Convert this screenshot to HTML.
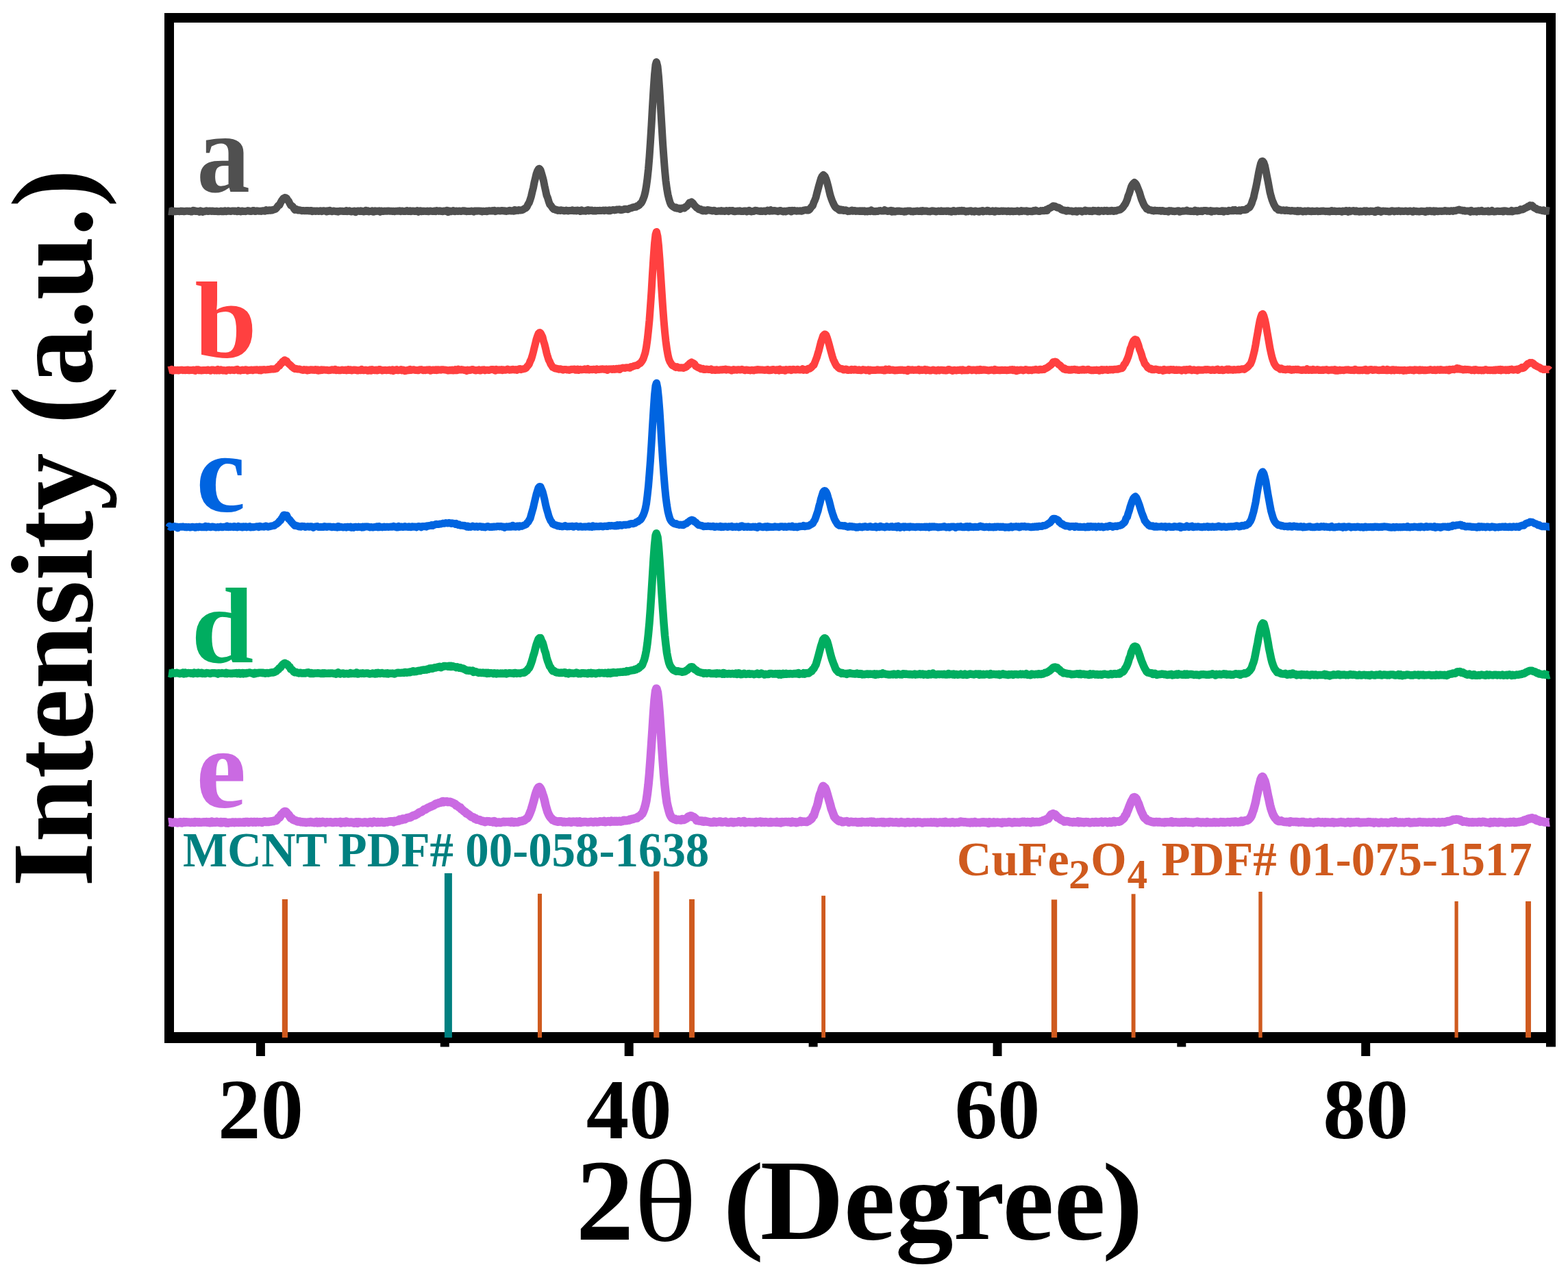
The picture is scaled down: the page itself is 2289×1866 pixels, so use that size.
<!DOCTYPE html>
<html><head><meta charset="utf-8"><title>XRD patterns</title>
<style>html,body{margin:0;padding:0;background:#fff;width:2289px;height:1866px;overflow:hidden}svg{display:block}</style>
</head><body>
<svg width="2289" height="1866" viewBox="0 0 2289 1866">
<rect width="100%" height="100%" fill="#fff"/>
<g fill="#000">
<rect x="240" y="19" width="2031" height="14"/>
<rect x="240" y="1507" width="2031" height="16"/>
<rect x="240" y="19" width="14" height="1504"/>
<rect x="2257" y="19" width="14" height="1504"/>
<rect x="373.9" y="1523" width="13" height="19"/>
<rect x="911.7" y="1523" width="13" height="19"/>
<rect x="1449.5" y="1523" width="13" height="19"/>
<rect x="1987.2" y="1523" width="13" height="19"/>
<rect x="642.8" y="1523" width="13" height="5.5"/>
<rect x="1180.6" y="1523" width="13" height="5.5"/>
<rect x="1718.3" y="1523" width="13" height="5.5"/>
<rect x="2257" y="1523" width="14" height="5.5"/>
</g>
<rect x="411.80" y="1313" width="8.2" height="202.0" fill="#cf5a1e"/>
<rect x="784.95" y="1304.9" width="6.1" height="210.1" fill="#cf5a1e"/>
<rect x="954.20" y="1272.3" width="8.2" height="242.7" fill="#cf5a1e"/>
<rect x="1006.05" y="1313" width="7.9" height="202.0" fill="#cf5a1e"/>
<rect x="1199.20" y="1307.8" width="5.8" height="207.2" fill="#cf5a1e"/>
<rect x="1534.85" y="1313.5" width="8.3" height="201.5" fill="#cf5a1e"/>
<rect x="1651.65" y="1305.3" width="5.9" height="209.7" fill="#cf5a1e"/>
<rect x="1837.30" y="1302" width="5.4" height="213.0" fill="#cf5a1e"/>
<rect x="2123.50" y="1316" width="5.2" height="199.0" fill="#cf5a1e"/>
<rect x="2227.05" y="1316" width="7.9" height="199.0" fill="#cf5a1e"/>
<rect x="648.9" y="1275" width="11" height="240" fill="#008080"/>
<path d="M246.0 308.6 L247.5 308.8 L249.0 308.6 L250.5 307.9 L252.0 308.9 L253.5 308.7 L255.0 308.2 L256.5 308.7 L258.0 308.6 L259.5 308.6 L261.0 308.5 L262.5 308.7 L264.0 308.1 L265.5 308.4 L267.0 308.2 L268.5 308.7 L270.0 308.5 L271.5 308.3 L273.0 308.1 L274.5 308.3 L276.0 308.5 L277.5 308.3 L279.0 309.0 L280.5 308.9 L282.0 307.2 L283.5 307.6 L285.0 308.4 L286.5 308.3 L288.0 308.5 L289.5 308.5 L291.0 309.4 L292.5 307.9 L294.0 308.3 L295.5 309.4 L297.0 308.7 L298.5 308.7 L300.0 308.2 L301.5 307.7 L303.0 308.5 L304.5 308.5 L306.0 307.9 L307.5 308.1 L309.0 308.4 L310.5 308.0 L312.0 308.4 L313.5 308.5 L315.0 308.4 L316.5 308.2 L318.0 308.7 L319.5 308.8 L321.0 308.6 L322.5 308.0 L324.0 308.7 L325.5 308.2 L327.0 308.8 L328.5 307.9 L330.0 308.8 L331.5 308.4 L333.0 307.8 L334.5 308.2 L336.0 308.4 L337.5 308.5 L339.0 307.9 L340.5 307.9 L342.0 308.4 L343.5 308.1 L345.0 308.5 L346.5 308.7 L348.0 307.6 L349.5 308.4 L351.0 308.9 L352.5 308.2 L354.0 307.9 L355.5 308.6 L357.0 308.4 L358.5 308.7 L360.0 308.1 L361.5 307.6 L363.0 308.2 L364.5 308.0 L366.0 308.6 L367.5 308.3 L369.0 307.5 L370.5 307.6 L372.0 308.5 L373.5 308.4 L375.0 307.8 L376.5 308.1 L378.0 308.2 L379.5 308.2 L381.0 308.4 L382.5 308.0 L384.0 307.8 L385.5 307.7 L387.0 308.2 L388.5 306.7 L390.0 307.5 L391.5 307.5 L393.0 306.7 L394.5 307.3 L396.0 306.7 L397.5 307.0 L399.0 306.2 L400.5 305.9 L402.0 305.4 L403.5 303.9 L405.0 301.9 L406.5 299.9 L408.0 299.3 L409.5 296.1 L411.0 293.4 L412.5 291.4 L414.0 289.4 L415.5 288.9 L416.0 288.5 L417.0 288.8 L418.5 289.7 L420.0 292.3 L421.5 294.0 L423.0 297.2 L424.5 299.9 L426.0 300.5 L427.5 301.7 L429.0 304.4 L430.5 306.3 L432.0 305.4 L433.5 305.8 L435.0 307.0 L436.5 306.7 L438.0 307.0 L439.5 307.2 L441.0 307.8 L442.5 307.4 L444.0 307.8 L445.5 307.7 L447.0 307.5 L448.5 307.7 L450.0 307.5 L451.5 308.0 L453.0 307.5 L454.5 307.6 L456.0 308.7 L457.5 308.1 L459.0 308.1 L460.5 308.4 L462.0 308.0 L463.5 308.1 L465.0 308.4 L466.5 308.3 L468.0 307.7 L469.5 308.6 L471.0 308.0 L472.5 307.8 L474.0 307.9 L475.5 308.1 L477.0 309.0 L478.5 307.8 L480.0 308.4 L481.5 307.3 L483.0 308.3 L484.5 308.7 L486.0 308.2 L487.5 308.0 L489.0 308.4 L490.5 308.7 L492.0 308.6 L493.5 309.2 L495.0 308.4 L496.5 308.1 L498.0 308.3 L499.5 308.3 L501.0 308.4 L502.5 308.4 L504.0 308.4 L505.5 307.6 L507.0 308.7 L508.5 308.1 L510.0 307.8 L511.5 308.7 L513.0 309.0 L514.5 308.6 L516.0 308.5 L517.5 308.0 L519.0 309.7 L520.5 308.8 L522.0 307.9 L523.5 308.0 L525.0 308.4 L526.5 307.7 L528.0 308.5 L529.5 308.2 L531.0 308.9 L532.5 308.8 L534.0 307.2 L535.5 308.4 L537.0 307.7 L538.5 308.9 L540.0 308.5 L541.5 308.6 L543.0 307.9 L544.5 309.2 L546.0 309.3 L547.5 307.9 L549.0 308.6 L550.5 308.1 L552.0 308.4 L553.5 307.8 L555.0 309.2 L556.5 308.0 L558.0 308.3 L559.5 308.6 L561.0 308.1 L562.5 308.3 L564.0 308.1 L565.5 308.3 L567.0 307.9 L568.5 308.2 L570.0 308.3 L571.5 308.3 L573.0 308.4 L574.5 308.3 L576.0 308.7 L577.5 308.3 L579.0 308.3 L580.5 308.1 L582.0 308.2 L583.5 307.8 L585.0 308.6 L586.5 307.9 L588.0 308.1 L589.5 308.6 L591.0 308.6 L592.5 308.2 L594.0 307.5 L595.5 308.6 L597.0 308.5 L598.5 307.8 L600.0 308.7 L601.5 308.1 L603.0 307.9 L604.5 308.4 L606.0 308.3 L607.5 308.5 L609.0 307.7 L610.5 309.2 L612.0 308.1 L613.5 307.7 L615.0 308.7 L616.5 308.2 L618.0 308.5 L619.5 308.2 L621.0 308.4 L622.5 308.5 L624.0 308.0 L625.5 308.7 L627.0 308.2 L628.5 308.0 L630.0 308.4 L631.5 308.6 L633.0 308.3 L634.5 308.0 L636.0 308.6 L637.5 307.6 L639.0 307.9 L640.5 308.4 L642.0 307.8 L643.5 308.4 L645.0 308.3 L646.5 308.8 L648.0 307.9 L649.5 308.1 L651.0 308.5 L652.5 307.2 L654.0 309.7 L655.5 308.0 L657.0 308.0 L658.5 308.7 L660.0 308.3 L661.5 307.5 L663.0 308.6 L664.5 308.7 L666.0 308.1 L667.5 308.2 L669.0 308.5 L670.5 307.9 L672.0 308.5 L673.5 308.4 L675.0 308.0 L676.5 307.7 L678.0 308.2 L679.5 307.9 L681.0 308.8 L682.5 308.4 L684.0 308.6 L685.5 308.4 L687.0 308.4 L688.5 307.9 L690.0 308.6 L691.5 309.1 L693.0 308.1 L694.5 308.0 L696.0 308.2 L697.5 308.0 L699.0 307.9 L700.5 308.3 L702.0 308.1 L703.5 308.9 L705.0 308.2 L706.5 308.4 L708.0 308.6 L709.5 308.1 L711.0 308.8 L712.5 307.9 L714.0 307.8 L715.5 308.0 L717.0 308.1 L718.5 307.5 L720.0 308.1 L721.5 307.4 L723.0 308.7 L724.5 308.1 L726.0 307.8 L727.5 307.7 L729.0 307.9 L730.5 307.9 L732.0 307.5 L733.5 307.6 L735.0 307.9 L736.5 307.7 L738.0 308.3 L739.5 308.4 L741.0 307.9 L742.5 308.0 L744.0 307.2 L745.5 308.0 L747.0 307.7 L748.5 307.9 L750.0 308.3 L751.5 306.5 L753.0 307.6 L754.5 306.9 L756.0 307.5 L757.5 306.6 L759.0 306.8 L760.5 306.9 L762.0 306.7 L763.5 306.1 L765.0 305.0 L766.5 304.2 L768.0 303.5 L769.5 301.3 L771.0 298.0 L772.5 295.8 L774.0 291.5 L775.5 286.6 L777.0 280.1 L778.5 274.1 L780.0 266.4 L781.5 260.4 L783.0 253.9 L784.5 249.8 L786.0 247.2 L787.0 246.2 L787.5 246.3 L789.0 248.3 L790.5 252.9 L792.0 258.3 L793.5 264.0 L795.0 271.6 L796.5 278.4 L798.0 285.2 L799.5 288.9 L801.0 293.9 L802.5 298.3 L804.0 299.8 L805.5 302.0 L807.0 304.2 L808.5 305.5 L810.0 305.4 L811.5 306.5 L813.0 306.6 L814.5 307.5 L816.0 306.9 L817.5 307.5 L819.0 306.8 L820.5 307.2 L822.0 307.3 L823.5 307.9 L825.0 307.7 L826.5 307.1 L828.0 307.8 L829.5 307.9 L831.0 307.5 L832.5 307.4 L834.0 307.5 L835.5 306.8 L837.0 307.7 L838.5 307.7 L840.0 307.2 L841.5 308.0 L843.0 307.0 L844.5 307.4 L846.0 307.4 L847.5 308.6 L849.0 306.9 L850.5 307.9 L852.0 308.1 L853.5 307.8 L855.0 308.2 L856.5 307.2 L858.0 306.6 L859.5 307.9 L861.0 307.1 L862.5 307.4 L864.0 307.0 L865.5 308.0 L867.0 307.9 L868.5 307.2 L870.0 307.9 L871.5 307.5 L873.0 307.4 L874.5 307.4 L876.0 307.3 L877.5 307.6 L879.0 307.4 L880.5 307.1 L882.0 307.7 L883.5 306.9 L885.0 307.3 L886.5 307.3 L888.0 307.7 L889.5 306.8 L891.0 307.7 L892.5 306.9 L894.0 306.7 L895.5 306.4 L897.0 306.9 L898.5 306.6 L900.0 306.0 L901.5 305.9 L903.0 306.0 L904.5 305.8 L906.0 306.5 L907.5 306.5 L909.0 306.1 L910.5 305.7 L912.0 305.2 L913.5 305.2 L915.0 305.4 L916.5 305.7 L918.0 304.9 L919.5 304.1 L921.0 303.9 L922.5 303.3 L924.0 302.7 L925.5 302.5 L927.0 302.1 L928.5 302.3 L930.0 300.7 L931.5 300.5 L933.0 299.6 L934.5 297.6 L936.0 296.6 L937.5 294.0 L939.0 290.4 L940.5 286.4 L942.0 280.4 L943.5 272.1 L945.0 261.1 L946.5 247.0 L948.0 229.1 L949.5 207.0 L951.0 182.9 L952.5 155.9 L954.0 131.0 L955.5 109.1 L957.0 94.5 L958.2 90.6 L958.5 91.1 L960.0 97.1 L961.5 112.2 L963.0 133.4 L964.5 158.0 L966.0 183.1 L967.5 208.5 L969.0 229.3 L970.5 248.7 L972.0 264.1 L973.5 275.4 L975.0 284.0 L976.5 290.2 L978.0 295.3 L979.5 298.8 L981.0 300.4 L982.5 301.8 L984.0 302.5 L985.5 303.6 L987.0 302.8 L988.5 304.2 L990.0 304.4 L991.5 304.0 L993.0 305.6 L994.5 304.0 L996.0 304.0 L997.5 303.6 L999.0 304.0 L1000.5 302.2 L1002.0 301.6 L1003.5 300.1 L1005.0 298.3 L1006.5 296.1 L1008.0 295.4 L1009.0 295.5 L1009.5 295.0 L1011.0 296.1 L1012.5 297.9 L1014.0 300.2 L1015.5 301.7 L1017.0 303.4 L1018.5 303.8 L1020.0 305.6 L1021.5 306.1 L1023.0 305.6 L1024.5 307.3 L1026.0 307.9 L1027.5 306.7 L1029.0 307.2 L1030.5 307.9 L1032.0 306.7 L1033.5 306.5 L1035.0 306.9 L1036.5 307.3 L1038.0 307.3 L1039.5 307.9 L1041.0 307.8 L1042.5 307.2 L1044.0 308.0 L1045.5 308.6 L1047.0 308.3 L1048.5 308.3 L1050.0 307.9 L1051.5 308.3 L1053.0 307.5 L1054.5 308.3 L1056.0 307.9 L1057.5 308.5 L1059.0 308.2 L1060.5 307.5 L1062.0 308.1 L1063.5 308.6 L1065.0 307.5 L1066.5 307.8 L1068.0 307.7 L1069.5 307.4 L1071.0 308.5 L1072.5 308.7 L1074.0 308.5 L1075.5 308.2 L1077.0 308.1 L1078.5 308.2 L1080.0 307.8 L1081.5 308.5 L1083.0 308.6 L1084.5 308.6 L1086.0 307.9 L1087.5 308.2 L1089.0 308.1 L1090.5 309.0 L1092.0 308.2 L1093.5 307.3 L1095.0 308.4 L1096.5 309.0 L1098.0 308.5 L1099.5 308.6 L1101.0 308.2 L1102.5 307.3 L1104.0 307.4 L1105.5 307.6 L1107.0 308.1 L1108.5 308.3 L1110.0 308.5 L1111.5 308.0 L1113.0 308.6 L1114.5 308.1 L1116.0 307.9 L1117.5 308.6 L1119.0 307.8 L1120.5 307.0 L1122.0 307.7 L1123.5 308.2 L1125.0 306.8 L1126.5 308.0 L1128.0 308.0 L1129.5 307.5 L1131.0 307.5 L1132.5 308.0 L1134.0 307.9 L1135.5 308.7 L1137.0 308.3 L1138.5 307.4 L1140.0 307.7 L1141.5 308.4 L1143.0 309.0 L1144.5 308.3 L1146.0 308.2 L1147.5 308.9 L1149.0 308.0 L1150.5 307.9 L1152.0 307.4 L1153.5 307.8 L1155.0 309.0 L1156.5 307.3 L1158.0 307.9 L1159.5 307.3 L1161.0 307.9 L1162.5 308.2 L1164.0 307.7 L1165.5 308.1 L1167.0 308.0 L1168.5 307.8 L1170.0 308.3 L1171.5 307.8 L1173.0 307.2 L1174.5 306.9 L1176.0 306.6 L1177.5 306.9 L1179.0 306.2 L1180.5 306.9 L1182.0 305.6 L1183.5 303.4 L1185.0 301.6 L1186.5 300.2 L1188.0 295.5 L1189.5 292.3 L1191.0 288.4 L1192.5 282.3 L1194.0 276.8 L1195.5 271.0 L1197.0 265.9 L1198.5 260.8 L1200.0 257.5 L1201.5 255.9 L1202.0 255.5 L1203.0 256.5 L1204.5 258.0 L1206.0 261.6 L1207.5 266.6 L1209.0 272.3 L1210.5 278.7 L1212.0 285.0 L1213.5 289.6 L1215.0 293.6 L1216.5 297.0 L1218.0 300.1 L1219.5 302.3 L1221.0 303.8 L1222.5 304.5 L1224.0 305.7 L1225.5 306.9 L1227.0 305.9 L1228.5 307.0 L1230.0 306.3 L1231.5 307.5 L1233.0 307.2 L1234.5 306.7 L1236.0 307.7 L1237.5 308.6 L1239.0 307.9 L1240.5 308.4 L1242.0 307.9 L1243.5 307.0 L1245.0 308.2 L1246.5 307.8 L1248.0 307.4 L1249.5 308.4 L1251.0 308.2 L1252.5 307.9 L1254.0 308.5 L1255.5 307.7 L1257.0 308.4 L1258.5 307.7 L1260.0 308.4 L1261.5 307.7 L1263.0 308.9 L1264.5 308.3 L1266.0 308.9 L1267.5 307.9 L1269.0 308.0 L1270.5 308.6 L1272.0 307.0 L1273.5 307.8 L1275.0 308.7 L1276.5 308.5 L1278.0 308.7 L1279.5 308.2 L1281.0 308.6 L1282.5 308.0 L1284.0 307.7 L1285.5 307.6 L1287.0 308.1 L1288.5 308.1 L1290.0 308.0 L1291.5 306.7 L1293.0 307.4 L1294.5 308.1 L1296.0 308.5 L1297.5 308.1 L1299.0 308.0 L1300.5 307.3 L1302.0 309.3 L1303.5 307.9 L1305.0 309.1 L1306.5 309.1 L1308.0 308.5 L1309.5 308.1 L1311.0 308.4 L1312.5 307.9 L1314.0 308.5 L1315.5 308.4 L1317.0 308.6 L1318.5 308.8 L1320.0 309.2 L1321.5 308.2 L1323.0 308.9 L1324.5 308.0 L1326.0 308.0 L1327.5 308.1 L1329.0 308.0 L1330.5 308.8 L1332.0 308.8 L1333.5 309.0 L1335.0 308.4 L1336.5 308.5 L1338.0 308.1 L1339.5 307.9 L1341.0 308.6 L1342.5 308.5 L1344.0 307.9 L1345.5 308.7 L1347.0 307.6 L1348.5 308.3 L1350.0 308.1 L1351.5 308.2 L1353.0 307.9 L1354.5 308.8 L1356.0 308.7 L1357.5 308.9 L1359.0 308.5 L1360.5 307.8 L1362.0 308.2 L1363.5 307.9 L1365.0 308.6 L1366.5 309.0 L1368.0 308.6 L1369.5 308.1 L1371.0 308.2 L1372.5 308.5 L1374.0 307.8 L1375.5 308.5 L1377.0 308.5 L1378.5 308.2 L1380.0 308.2 L1381.5 308.5 L1383.0 308.0 L1384.5 308.0 L1386.0 308.8 L1387.5 308.5 L1389.0 309.2 L1390.5 308.0 L1392.0 307.6 L1393.5 308.8 L1395.0 308.8 L1396.5 308.1 L1398.0 307.8 L1399.5 308.4 L1401.0 307.6 L1402.5 308.3 L1404.0 307.4 L1405.5 308.3 L1407.0 307.5 L1408.5 308.3 L1410.0 309.1 L1411.5 308.3 L1413.0 308.8 L1414.5 308.1 L1416.0 308.0 L1417.5 307.7 L1419.0 308.9 L1420.5 308.4 L1422.0 309.1 L1423.5 307.9 L1425.0 308.3 L1426.5 308.4 L1428.0 309.0 L1429.5 309.2 L1431.0 308.1 L1432.5 307.9 L1434.0 307.6 L1435.5 309.0 L1437.0 308.4 L1438.5 308.1 L1440.0 308.4 L1441.5 307.2 L1443.0 307.6 L1444.5 308.8 L1446.0 308.6 L1447.5 308.5 L1449.0 307.9 L1450.5 308.7 L1452.0 309.2 L1453.5 307.8 L1455.0 308.4 L1456.5 308.2 L1458.0 308.5 L1459.5 308.4 L1461.0 308.3 L1462.5 308.0 L1464.0 308.4 L1465.5 308.1 L1467.0 308.3 L1468.5 308.3 L1470.0 308.7 L1471.5 308.1 L1473.0 308.2 L1474.5 308.8 L1476.0 308.3 L1477.5 308.2 L1479.0 308.7 L1480.5 308.5 L1482.0 308.4 L1483.5 308.4 L1485.0 307.8 L1486.5 308.5 L1488.0 308.9 L1489.5 308.6 L1491.0 307.6 L1492.5 308.4 L1494.0 307.9 L1495.5 308.2 L1497.0 308.3 L1498.5 307.7 L1500.0 308.9 L1501.5 308.2 L1503.0 308.6 L1504.5 308.5 L1506.0 308.8 L1507.5 308.7 L1509.0 307.5 L1510.5 308.2 L1512.0 307.1 L1513.5 307.9 L1515.0 308.3 L1516.5 308.4 L1518.0 308.5 L1519.5 307.6 L1521.0 307.8 L1522.5 307.5 L1524.0 307.8 L1525.5 307.6 L1527.0 306.3 L1528.5 307.6 L1530.0 305.2 L1531.5 304.2 L1533.0 303.7 L1534.5 302.9 L1536.0 301.9 L1537.5 300.8 L1539.0 300.9 L1540.5 301.1 L1542.0 302.4 L1543.5 303.2 L1545.0 302.9 L1546.5 303.9 L1548.0 304.7 L1549.5 306.0 L1551.0 306.5 L1552.5 307.0 L1554.0 306.9 L1555.5 307.7 L1557.0 308.3 L1558.5 307.2 L1560.0 307.8 L1561.5 308.0 L1563.0 307.9 L1564.5 307.9 L1566.0 308.9 L1567.5 308.7 L1569.0 308.5 L1570.5 307.8 L1572.0 309.2 L1573.5 308.3 L1575.0 307.9 L1576.5 308.0 L1578.0 308.0 L1579.5 309.1 L1581.0 308.3 L1582.5 308.2 L1584.0 307.2 L1585.5 308.5 L1587.0 307.7 L1588.5 307.7 L1590.0 308.5 L1591.5 307.8 L1593.0 308.6 L1594.5 308.7 L1596.0 307.4 L1597.5 308.1 L1599.0 307.5 L1600.5 308.1 L1602.0 308.6 L1603.5 307.5 L1605.0 308.9 L1606.5 308.0 L1608.0 307.6 L1609.5 308.0 L1611.0 308.4 L1612.5 307.4 L1614.0 308.0 L1615.5 307.4 L1617.0 308.5 L1618.5 308.0 L1620.0 307.7 L1621.5 308.3 L1623.0 307.2 L1624.5 307.6 L1626.0 308.5 L1627.5 307.5 L1629.0 308.0 L1630.5 307.3 L1632.0 306.7 L1633.5 306.5 L1635.0 306.1 L1636.5 305.1 L1638.0 303.8 L1639.5 302.3 L1641.0 299.9 L1642.5 298.0 L1644.0 294.9 L1645.5 291.2 L1647.0 285.8 L1648.5 282.3 L1650.0 277.4 L1651.5 272.5 L1653.0 269.7 L1654.5 267.7 L1656.0 266.5 L1657.5 267.6 L1659.0 270.0 L1660.5 273.5 L1662.0 277.3 L1663.5 281.0 L1665.0 286.2 L1666.5 291.0 L1668.0 294.5 L1669.5 298.2 L1671.0 300.9 L1672.5 302.6 L1674.0 305.0 L1675.5 304.8 L1677.0 306.5 L1678.5 306.4 L1680.0 306.6 L1681.5 307.5 L1683.0 307.2 L1684.5 307.9 L1686.0 307.1 L1687.5 307.7 L1689.0 307.4 L1690.5 307.7 L1692.0 307.7 L1693.5 307.4 L1695.0 308.3 L1696.5 307.4 L1698.0 307.6 L1699.5 308.4 L1701.0 308.5 L1702.5 308.4 L1704.0 308.3 L1705.5 309.1 L1707.0 307.6 L1708.5 307.8 L1710.0 307.7 L1711.5 308.6 L1713.0 308.3 L1714.5 308.7 L1716.0 308.6 L1717.5 308.1 L1719.0 307.8 L1720.5 307.8 L1722.0 309.2 L1723.5 308.7 L1725.0 308.5 L1726.5 308.1 L1728.0 308.2 L1729.5 308.1 L1731.0 308.1 L1732.5 307.2 L1734.0 308.2 L1735.5 308.1 L1737.0 308.4 L1738.5 308.3 L1740.0 308.6 L1741.5 308.2 L1743.0 308.6 L1744.5 307.1 L1746.0 307.8 L1747.5 309.0 L1749.0 307.7 L1750.5 308.1 L1752.0 308.6 L1753.5 307.8 L1755.0 308.6 L1756.5 307.6 L1758.0 307.4 L1759.5 307.6 L1761.0 307.5 L1762.5 308.2 L1764.0 308.1 L1765.5 308.4 L1767.0 307.7 L1768.5 309.3 L1770.0 308.1 L1771.5 308.2 L1773.0 308.4 L1774.5 308.1 L1776.0 307.9 L1777.5 308.2 L1779.0 308.5 L1780.5 308.4 L1782.0 308.5 L1783.5 307.8 L1785.0 307.7 L1786.5 309.0 L1788.0 307.9 L1789.5 308.2 L1791.0 308.3 L1792.5 308.6 L1794.0 307.3 L1795.5 307.7 L1797.0 307.7 L1798.5 307.7 L1800.0 306.7 L1801.5 307.7 L1803.0 306.4 L1804.5 307.8 L1806.0 307.8 L1807.5 307.8 L1809.0 306.9 L1810.5 307.8 L1812.0 306.8 L1813.5 306.5 L1815.0 306.4 L1816.5 306.3 L1818.0 306.4 L1819.5 306.1 L1821.0 304.1 L1822.5 303.7 L1824.0 302.8 L1825.5 300.3 L1827.0 297.5 L1828.5 292.7 L1830.0 288.8 L1831.5 281.7 L1833.0 275.5 L1834.5 268.3 L1836.0 260.4 L1837.5 251.9 L1839.0 245.0 L1840.5 238.9 L1842.0 235.7 L1843.0 235.3 L1843.5 235.5 L1845.0 237.7 L1846.5 242.0 L1848.0 249.3 L1849.5 257.2 L1851.0 264.7 L1852.5 272.7 L1854.0 280.9 L1855.5 286.6 L1857.0 291.7 L1858.5 295.5 L1860.0 299.0 L1861.5 301.6 L1863.0 304.1 L1864.5 304.4 L1866.0 306.4 L1867.5 305.7 L1869.0 306.4 L1870.5 307.2 L1872.0 306.9 L1873.5 306.8 L1875.0 307.3 L1876.5 307.6 L1878.0 306.7 L1879.5 307.5 L1881.0 307.6 L1882.5 307.5 L1884.0 308.1 L1885.5 307.5 L1887.0 307.7 L1888.5 307.9 L1890.0 308.3 L1891.5 307.9 L1893.0 308.7 L1894.5 307.6 L1896.0 308.6 L1897.5 307.7 L1899.0 308.0 L1900.5 308.3 L1902.0 309.0 L1903.5 308.5 L1905.0 308.0 L1906.5 308.8 L1908.0 308.1 L1909.5 307.8 L1911.0 308.4 L1912.5 308.3 L1914.0 308.7 L1915.5 308.0 L1917.0 308.4 L1918.5 308.5 L1920.0 308.4 L1921.5 308.3 L1923.0 308.0 L1924.5 308.7 L1926.0 308.4 L1927.5 308.5 L1929.0 308.1 L1930.5 308.3 L1932.0 307.9 L1933.5 308.4 L1935.0 308.7 L1936.5 308.4 L1938.0 308.7 L1939.5 308.5 L1941.0 309.0 L1942.5 308.3 L1944.0 307.6 L1945.5 308.6 L1947.0 308.3 L1948.5 307.9 L1950.0 308.7 L1951.5 308.5 L1953.0 308.6 L1954.5 308.2 L1956.0 308.5 L1957.5 308.5 L1959.0 309.2 L1960.5 308.1 L1962.0 308.4 L1963.5 308.6 L1965.0 307.6 L1966.5 307.7 L1968.0 309.4 L1969.5 307.6 L1971.0 308.7 L1972.5 308.0 L1974.0 308.1 L1975.5 307.5 L1977.0 308.0 L1978.5 308.8 L1980.0 307.8 L1981.5 308.7 L1983.0 308.6 L1984.5 309.3 L1986.0 308.2 L1987.5 309.0 L1989.0 308.8 L1990.5 308.3 L1992.0 307.7 L1993.5 309.1 L1995.0 307.8 L1996.5 308.2 L1998.0 308.8 L1999.5 308.9 L2001.0 308.0 L2002.5 308.4 L2004.0 308.3 L2005.5 309.0 L2007.0 309.6 L2008.5 307.6 L2010.0 308.8 L2011.5 307.1 L2013.0 308.4 L2014.5 307.9 L2016.0 309.3 L2017.5 308.5 L2019.0 308.1 L2020.5 308.2 L2022.0 308.2 L2023.5 308.5 L2025.0 308.4 L2026.5 308.7 L2028.0 309.1 L2029.5 308.8 L2031.0 307.9 L2032.5 307.7 L2034.0 308.1 L2035.5 308.9 L2037.0 308.3 L2038.5 308.1 L2040.0 308.5 L2041.5 307.8 L2043.0 307.9 L2044.5 308.7 L2046.0 308.3 L2047.5 308.2 L2049.0 308.6 L2050.5 308.2 L2052.0 308.1 L2053.5 308.2 L2055.0 308.7 L2056.5 308.5 L2058.0 307.9 L2059.5 308.3 L2061.0 308.7 L2062.5 309.3 L2064.0 307.9 L2065.5 308.6 L2067.0 308.3 L2068.5 308.8 L2070.0 308.6 L2071.5 309.1 L2073.0 308.7 L2074.5 308.2 L2076.0 308.2 L2077.5 308.6 L2079.0 308.6 L2080.5 309.5 L2082.0 309.2 L2083.5 307.9 L2085.0 308.6 L2086.5 307.8 L2088.0 307.7 L2089.5 308.8 L2091.0 308.7 L2092.5 307.9 L2094.0 309.1 L2095.5 308.0 L2097.0 307.9 L2098.5 308.7 L2100.0 308.5 L2101.5 308.3 L2103.0 308.3 L2104.5 308.5 L2106.0 308.3 L2107.5 308.3 L2109.0 307.5 L2110.5 307.7 L2112.0 308.5 L2113.5 307.9 L2115.0 308.3 L2116.5 308.5 L2118.0 307.7 L2119.5 307.8 L2121.0 308.4 L2122.5 307.6 L2124.0 307.8 L2125.5 307.5 L2127.0 306.9 L2128.5 306.5 L2129.0 306.5 L2130.0 306.0 L2131.5 306.9 L2133.0 307.1 L2134.5 307.0 L2136.0 307.7 L2137.5 307.3 L2139.0 308.2 L2140.5 307.9 L2142.0 308.0 L2143.5 308.1 L2145.0 308.1 L2146.5 309.4 L2148.0 307.5 L2149.5 308.4 L2151.0 308.9 L2152.5 308.7 L2154.0 308.2 L2155.5 309.1 L2157.0 307.9 L2158.5 307.8 L2160.0 308.6 L2161.5 307.7 L2163.0 307.3 L2164.5 308.8 L2166.0 308.7 L2167.5 308.7 L2169.0 308.2 L2170.5 308.5 L2172.0 307.9 L2173.5 309.1 L2175.0 308.7 L2176.5 308.7 L2178.0 307.5 L2179.5 308.7 L2181.0 309.0 L2182.5 308.9 L2184.0 308.7 L2185.5 308.3 L2187.0 308.2 L2188.5 308.6 L2190.0 308.5 L2191.5 308.4 L2193.0 308.1 L2194.5 309.0 L2196.0 307.7 L2197.5 308.2 L2199.0 308.0 L2200.5 308.7 L2202.0 308.8 L2203.5 308.7 L2205.0 308.5 L2206.5 307.5 L2208.0 309.0 L2209.5 308.2 L2211.0 307.9 L2212.5 307.8 L2214.0 307.5 L2215.5 307.7 L2217.0 307.4 L2218.5 306.8 L2220.0 305.5 L2221.5 306.1 L2223.0 305.8 L2224.5 305.1 L2226.0 304.0 L2227.5 303.4 L2229.0 302.8 L2230.5 301.4 L2232.0 301.7 L2233.5 299.8 L2234.0 300.7 L2235.0 300.4 L2236.5 300.1 L2238.0 301.4 L2239.5 303.2 L2241.0 304.1 L2242.5 304.4 L2244.0 305.9 L2245.5 305.9 L2247.0 306.1 L2248.5 306.9 L2250.0 307.1 L2251.5 307.7 L2253.0 306.9 L2254.5 308.2 L2256.0 307.7 L2257.5 308.3 L2259.0 307.3 L2260.5 307.9 L2262.0 308.1" fill="none" stroke="#505050" stroke-width="11" stroke-linejoin="round" stroke-linecap="butt"/>
<path d="M246.0 540.6 L247.5 540.2 L249.0 540.3 L250.5 539.4 L252.0 541.3 L253.5 541.0 L255.0 540.3 L256.5 540.8 L258.0 540.6 L259.5 540.2 L261.0 540.9 L262.5 540.3 L264.0 540.3 L265.5 540.1 L267.0 540.7 L268.5 540.4 L270.0 540.7 L271.5 540.2 L273.0 540.5 L274.5 540.1 L276.0 540.8 L277.5 540.5 L279.0 540.6 L280.5 540.6 L282.0 540.0 L283.5 540.8 L285.0 541.4 L286.5 539.7 L288.0 539.7 L289.5 539.8 L291.0 540.8 L292.5 540.5 L294.0 540.9 L295.5 540.8 L297.0 540.5 L298.5 540.6 L300.0 540.4 L301.5 540.8 L303.0 539.9 L304.5 540.3 L306.0 540.6 L307.5 541.3 L309.0 540.1 L310.5 540.0 L312.0 540.2 L313.5 540.9 L315.0 540.3 L316.5 541.0 L318.0 539.6 L319.5 540.9 L321.0 540.9 L322.5 539.8 L324.0 540.5 L325.5 541.0 L327.0 540.5 L328.5 540.9 L330.0 541.5 L331.5 540.5 L333.0 540.3 L334.5 540.1 L336.0 540.7 L337.5 540.3 L339.0 540.3 L340.5 540.4 L342.0 540.7 L343.5 539.9 L345.0 539.7 L346.5 539.3 L348.0 540.9 L349.5 540.4 L351.0 541.1 L352.5 540.4 L354.0 540.0 L355.5 540.6 L357.0 540.3 L358.5 539.8 L360.0 539.9 L361.5 541.1 L363.0 540.5 L364.5 540.5 L366.0 540.2 L367.5 540.0 L369.0 540.7 L370.5 540.2 L372.0 539.9 L373.5 540.2 L375.0 539.8 L376.5 540.3 L378.0 540.7 L379.5 539.8 L381.0 540.8 L382.5 539.8 L384.0 540.1 L385.5 539.6 L387.0 539.9 L388.5 539.9 L390.0 539.7 L391.5 539.5 L393.0 539.4 L394.5 539.2 L396.0 538.7 L397.5 539.1 L399.0 539.1 L400.5 538.9 L402.0 538.2 L403.5 538.3 L405.0 536.3 L406.5 534.7 L408.0 534.3 L409.5 531.4 L411.0 530.6 L412.5 528.1 L414.0 527.4 L415.5 525.7 L416.0 526.5 L417.0 526.6 L418.5 527.1 L420.0 529.8 L421.5 531.0 L423.0 532.4 L424.5 533.7 L426.0 535.4 L427.5 536.4 L429.0 537.8 L430.5 538.5 L432.0 538.3 L433.5 538.8 L435.0 539.0 L436.5 538.9 L438.0 539.3 L439.5 539.7 L441.0 540.1 L442.5 540.5 L444.0 539.6 L445.5 540.2 L447.0 539.8 L448.5 541.0 L450.0 540.1 L451.5 540.4 L453.0 539.7 L454.5 539.8 L456.0 540.3 L457.5 540.0 L459.0 540.4 L460.5 539.5 L462.0 540.6 L463.5 539.9 L465.0 541.1 L466.5 540.2 L468.0 540.8 L469.5 539.7 L471.0 540.5 L472.5 539.9 L474.0 540.1 L475.5 540.3 L477.0 540.2 L478.5 540.5 L480.0 540.7 L481.5 540.6 L483.0 540.3 L484.5 539.8 L486.0 540.0 L487.5 540.3 L489.0 539.4 L490.5 540.7 L492.0 540.3 L493.5 540.3 L495.0 540.8 L496.5 540.7 L498.0 540.5 L499.5 539.9 L501.0 540.5 L502.5 540.6 L504.0 540.0 L505.5 540.9 L507.0 540.6 L508.5 539.5 L510.0 540.5 L511.5 539.8 L513.0 540.9 L514.5 540.8 L516.0 539.9 L517.5 540.0 L519.0 540.5 L520.5 540.3 L522.0 541.1 L523.5 540.7 L525.0 540.3 L526.5 540.7 L528.0 539.5 L529.5 540.6 L531.0 540.8 L532.5 540.3 L534.0 540.1 L535.5 540.7 L537.0 541.3 L538.5 540.5 L540.0 539.9 L541.5 541.1 L543.0 539.6 L544.5 540.6 L546.0 540.2 L547.5 540.8 L549.0 540.0 L550.5 541.0 L552.0 540.6 L553.5 539.6 L555.0 539.5 L556.5 540.3 L558.0 541.0 L559.5 540.5 L561.0 540.4 L562.5 540.3 L564.0 540.7 L565.5 540.6 L567.0 540.5 L568.5 540.0 L570.0 540.9 L571.5 541.0 L573.0 539.8 L574.5 541.5 L576.0 540.7 L577.5 540.2 L579.0 539.6 L580.5 540.7 L582.0 540.7 L583.5 540.1 L585.0 539.6 L586.5 540.9 L588.0 540.1 L589.5 540.2 L591.0 541.7 L592.5 541.4 L594.0 540.8 L595.5 540.2 L597.0 540.7 L598.5 539.4 L600.0 540.5 L601.5 540.1 L603.0 539.8 L604.5 539.7 L606.0 540.6 L607.5 540.4 L609.0 540.5 L610.5 540.8 L612.0 540.0 L613.5 539.8 L615.0 539.6 L616.5 540.2 L618.0 540.7 L619.5 540.3 L621.0 540.7 L622.5 539.9 L624.0 540.2 L625.5 540.0 L627.0 539.8 L628.5 541.2 L630.0 540.8 L631.5 540.0 L633.0 540.0 L634.5 540.4 L636.0 539.7 L637.5 540.6 L639.0 539.8 L640.5 540.2 L642.0 539.9 L643.5 540.2 L645.0 539.8 L646.5 539.7 L648.0 539.9 L649.5 540.1 L651.0 540.2 L652.5 540.4 L654.0 541.1 L655.5 540.7 L657.0 540.2 L658.5 540.7 L660.0 540.0 L661.5 541.0 L663.0 540.6 L664.5 539.7 L666.0 540.7 L667.5 540.7 L669.0 539.1 L670.5 540.0 L672.0 540.1 L673.5 539.5 L675.0 539.9 L676.5 539.9 L678.0 540.6 L679.5 540.5 L681.0 541.5 L682.5 540.1 L684.0 540.8 L685.5 540.3 L687.0 540.4 L688.5 539.8 L690.0 539.4 L691.5 540.0 L693.0 540.6 L694.5 541.0 L696.0 540.6 L697.5 540.5 L699.0 539.9 L700.5 541.0 L702.0 540.9 L703.5 540.0 L705.0 540.2 L706.5 539.8 L708.0 540.9 L709.5 540.4 L711.0 540.2 L712.5 540.4 L714.0 540.4 L715.5 540.0 L717.0 539.6 L718.5 539.6 L720.0 539.4 L721.5 540.4 L723.0 541.2 L724.5 539.4 L726.0 540.2 L727.5 540.3 L729.0 539.7 L730.5 540.2 L732.0 539.6 L733.5 540.6 L735.0 539.8 L736.5 540.1 L738.0 540.3 L739.5 539.8 L741.0 539.1 L742.5 539.7 L744.0 540.2 L745.5 539.8 L747.0 539.9 L748.5 539.3 L750.0 539.8 L751.5 540.0 L753.0 539.6 L754.5 540.4 L756.0 539.4 L757.5 538.9 L759.0 538.5 L760.5 539.6 L762.0 538.9 L763.5 539.0 L765.0 538.4 L766.5 538.2 L768.0 537.2 L769.5 535.1 L771.0 533.6 L772.5 531.5 L774.0 527.3 L775.5 524.5 L777.0 519.7 L778.5 514.1 L780.0 507.7 L781.5 501.8 L783.0 495.4 L784.5 491.0 L786.0 487.1 L787.5 485.7 L788.0 485.5 L789.0 486.1 L790.5 488.9 L792.0 491.9 L793.5 498.2 L795.0 502.8 L796.5 508.8 L798.0 515.5 L799.5 520.7 L801.0 525.4 L802.5 528.2 L804.0 531.8 L805.5 534.1 L807.0 536.2 L808.5 536.8 L810.0 537.9 L811.5 537.8 L813.0 538.5 L814.5 538.6 L816.0 539.3 L817.5 538.7 L819.0 538.9 L820.5 539.6 L822.0 540.2 L823.5 539.6 L825.0 539.6 L826.5 539.4 L828.0 540.1 L829.5 539.8 L831.0 540.4 L832.5 539.8 L834.0 539.2 L835.5 539.4 L837.0 539.2 L838.5 539.1 L840.0 540.3 L841.5 540.1 L843.0 539.2 L844.5 540.5 L846.0 539.8 L847.5 539.3 L849.0 539.9 L850.5 539.7 L852.0 539.4 L853.5 538.8 L855.0 539.7 L856.5 539.8 L858.0 538.5 L859.5 539.9 L861.0 539.9 L862.5 539.4 L864.0 539.7 L865.5 539.5 L867.0 539.2 L868.5 539.4 L870.0 540.2 L871.5 538.9 L873.0 539.6 L874.5 539.6 L876.0 539.1 L877.5 539.2 L879.0 538.8 L880.5 539.0 L882.0 539.3 L883.5 539.4 L885.0 538.8 L886.5 540.6 L888.0 538.9 L889.5 539.2 L891.0 538.9 L892.5 538.8 L894.0 539.5 L895.5 538.6 L897.0 539.4 L898.5 539.2 L900.0 538.2 L901.5 539.0 L903.0 538.1 L904.5 539.6 L906.0 538.0 L907.5 537.7 L909.0 537.1 L910.5 537.2 L912.0 537.4 L913.5 537.0 L915.0 536.7 L916.5 536.7 L918.0 536.7 L919.5 537.2 L921.0 535.4 L922.5 535.6 L924.0 535.0 L925.5 534.4 L927.0 534.0 L928.5 533.6 L930.0 533.6 L931.5 532.4 L933.0 531.3 L934.5 530.6 L936.0 528.9 L937.5 526.7 L939.0 524.1 L940.5 519.6 L942.0 514.8 L943.5 507.1 L945.0 496.5 L946.5 482.9 L948.0 467.5 L949.5 446.9 L951.0 425.5 L952.5 399.6 L954.0 376.4 L955.5 355.4 L957.0 342.4 L958.2 338.7 L958.5 338.5 L960.0 344.9 L961.5 358.8 L963.0 378.2 L964.5 401.0 L966.0 424.7 L967.5 447.2 L969.0 467.4 L970.5 484.5 L972.0 498.4 L973.5 509.6 L975.0 517.9 L976.5 524.4 L978.0 528.1 L979.5 530.5 L981.0 533.2 L982.5 533.9 L984.0 534.8 L985.5 535.7 L987.0 536.4 L988.5 535.5 L990.0 536.3 L991.5 537.1 L993.0 537.0 L994.5 536.8 L996.0 536.9 L997.5 537.5 L999.0 536.4 L1000.5 536.3 L1002.0 535.5 L1003.5 533.8 L1005.0 532.9 L1006.5 531.1 L1008.0 529.9 L1009.5 529.0 L1010.0 529.5 L1011.0 529.6 L1012.5 530.5 L1014.0 531.6 L1015.5 534.5 L1017.0 535.4 L1018.5 536.2 L1020.0 536.9 L1021.5 537.2 L1023.0 538.5 L1024.5 538.8 L1026.0 538.3 L1027.5 539.6 L1029.0 539.6 L1030.5 538.9 L1032.0 539.2 L1033.5 539.3 L1035.0 539.6 L1036.5 539.6 L1038.0 538.9 L1039.5 540.4 L1041.0 539.9 L1042.5 540.3 L1044.0 540.4 L1045.5 539.7 L1047.0 540.0 L1048.5 540.2 L1050.0 540.3 L1051.5 539.9 L1053.0 539.7 L1054.5 540.0 L1056.0 539.6 L1057.5 539.8 L1059.0 539.1 L1060.5 540.1 L1062.0 539.6 L1063.5 539.8 L1065.0 540.0 L1066.5 540.2 L1068.0 540.9 L1069.5 540.2 L1071.0 539.5 L1072.5 540.2 L1074.0 539.9 L1075.5 540.3 L1077.0 539.8 L1078.5 539.8 L1080.0 539.9 L1081.5 539.9 L1083.0 539.3 L1084.5 539.9 L1086.0 540.2 L1087.5 540.7 L1089.0 540.0 L1090.5 540.0 L1092.0 540.4 L1093.5 540.4 L1095.0 540.9 L1096.5 540.5 L1098.0 540.2 L1099.5 540.8 L1101.0 540.9 L1102.5 540.0 L1104.0 540.3 L1105.5 539.5 L1107.0 540.0 L1108.5 539.8 L1110.0 540.1 L1111.5 540.0 L1113.0 540.1 L1114.5 540.2 L1116.0 540.4 L1117.5 540.3 L1119.0 540.0 L1120.5 539.6 L1122.0 540.8 L1123.5 540.8 L1125.0 540.0 L1126.5 540.5 L1128.0 539.5 L1129.5 539.5 L1131.0 540.1 L1132.5 540.8 L1134.0 539.7 L1135.5 539.8 L1137.0 540.9 L1138.5 539.3 L1140.0 540.4 L1141.5 540.4 L1143.0 540.0 L1144.5 540.2 L1146.0 541.3 L1147.5 539.6 L1149.0 539.9 L1150.5 540.0 L1152.0 539.7 L1153.5 539.4 L1155.0 540.7 L1156.5 540.1 L1158.0 539.2 L1159.5 539.6 L1161.0 540.1 L1162.5 540.1 L1164.0 539.2 L1165.5 539.8 L1167.0 539.9 L1168.5 539.9 L1170.0 539.8 L1171.5 538.8 L1173.0 540.3 L1174.5 539.5 L1176.0 540.1 L1177.5 540.4 L1179.0 538.8 L1180.5 537.9 L1182.0 538.3 L1183.5 537.1 L1185.0 535.9 L1186.5 534.0 L1188.0 533.1 L1189.5 529.4 L1191.0 525.4 L1192.5 521.5 L1194.0 516.2 L1195.5 511.3 L1197.0 505.2 L1198.5 499.3 L1200.0 495.0 L1201.5 490.5 L1203.0 488.8 L1204.0 488.0 L1204.5 488.0 L1206.0 489.5 L1207.5 493.3 L1209.0 498.4 L1210.5 503.5 L1212.0 509.4 L1213.5 514.9 L1215.0 520.3 L1216.5 525.0 L1218.0 528.2 L1219.5 531.3 L1221.0 533.9 L1222.5 535.3 L1224.0 536.9 L1225.5 538.0 L1227.0 538.3 L1228.5 538.5 L1230.0 538.7 L1231.5 540.0 L1233.0 539.8 L1234.5 539.0 L1236.0 539.2 L1237.5 540.5 L1239.0 540.4 L1240.5 539.9 L1242.0 540.4 L1243.5 539.2 L1245.0 539.9 L1246.5 540.3 L1248.0 539.2 L1249.5 539.7 L1251.0 540.4 L1252.5 540.6 L1254.0 539.8 L1255.5 540.2 L1257.0 540.8 L1258.5 540.0 L1260.0 539.6 L1261.5 540.1 L1263.0 540.0 L1264.5 540.8 L1266.0 540.3 L1267.5 539.9 L1269.0 541.3 L1270.5 540.0 L1272.0 540.5 L1273.5 540.6 L1275.0 540.6 L1276.5 540.4 L1278.0 540.5 L1279.5 540.3 L1281.0 539.7 L1282.5 540.2 L1284.0 540.2 L1285.5 540.2 L1287.0 540.4 L1288.5 540.0 L1290.0 540.9 L1291.5 541.0 L1293.0 539.3 L1294.5 540.3 L1296.0 540.0 L1297.5 539.2 L1299.0 540.5 L1300.5 540.1 L1302.0 540.2 L1303.5 540.1 L1305.0 540.8 L1306.5 540.9 L1308.0 540.5 L1309.5 540.7 L1311.0 540.3 L1312.5 540.4 L1314.0 540.0 L1315.5 540.4 L1317.0 540.1 L1318.5 540.5 L1320.0 540.8 L1321.5 540.5 L1323.0 540.9 L1324.5 541.6 L1326.0 539.4 L1327.5 540.4 L1329.0 540.1 L1330.5 540.2 L1332.0 539.8 L1333.5 540.4 L1335.0 540.3 L1336.5 540.1 L1338.0 540.3 L1339.5 540.1 L1341.0 539.3 L1342.5 540.9 L1344.0 540.3 L1345.5 540.0 L1347.0 540.5 L1348.5 540.1 L1350.0 539.4 L1351.5 540.8 L1353.0 539.7 L1354.5 540.3 L1356.0 540.5 L1357.5 541.0 L1359.0 540.9 L1360.5 540.5 L1362.0 540.1 L1363.5 540.2 L1365.0 540.9 L1366.5 541.2 L1368.0 540.7 L1369.5 540.1 L1371.0 540.9 L1372.5 540.2 L1374.0 540.2 L1375.5 540.3 L1377.0 540.7 L1378.5 540.5 L1380.0 540.9 L1381.5 541.0 L1383.0 540.6 L1384.5 539.4 L1386.0 539.7 L1387.5 540.5 L1389.0 540.4 L1390.5 541.4 L1392.0 540.4 L1393.5 540.3 L1395.0 540.8 L1396.5 540.9 L1398.0 540.3 L1399.5 540.6 L1401.0 539.9 L1402.5 540.0 L1404.0 541.0 L1405.5 539.8 L1407.0 540.8 L1408.5 540.7 L1410.0 540.8 L1411.5 540.8 L1413.0 540.7 L1414.5 539.4 L1416.0 540.0 L1417.5 540.1 L1419.0 540.8 L1420.5 539.9 L1422.0 540.1 L1423.5 540.2 L1425.0 541.0 L1426.5 539.8 L1428.0 539.8 L1429.5 540.7 L1431.0 539.5 L1432.5 540.6 L1434.0 540.2 L1435.5 539.7 L1437.0 540.2 L1438.5 540.0 L1440.0 540.5 L1441.5 540.6 L1443.0 541.1 L1444.5 540.4 L1446.0 540.4 L1447.5 540.1 L1449.0 540.4 L1450.5 540.9 L1452.0 539.5 L1453.5 540.7 L1455.0 540.1 L1456.5 540.4 L1458.0 540.5 L1459.5 540.8 L1461.0 540.5 L1462.5 540.2 L1464.0 540.5 L1465.5 540.4 L1467.0 540.3 L1468.5 540.5 L1470.0 540.8 L1471.5 540.4 L1473.0 540.4 L1474.5 539.8 L1476.0 540.3 L1477.5 539.5 L1479.0 540.7 L1480.5 539.9 L1482.0 540.9 L1483.5 541.7 L1485.0 540.1 L1486.5 540.9 L1488.0 540.5 L1489.5 540.0 L1491.0 539.9 L1492.5 540.5 L1494.0 540.9 L1495.5 540.4 L1497.0 539.6 L1498.5 539.7 L1500.0 540.1 L1501.5 540.8 L1503.0 540.3 L1504.5 540.3 L1506.0 540.7 L1507.5 540.0 L1509.0 540.0 L1510.5 539.9 L1512.0 539.2 L1513.5 540.1 L1515.0 540.0 L1516.5 540.2 L1518.0 539.2 L1519.5 539.2 L1521.0 539.8 L1522.5 539.3 L1524.0 539.5 L1525.5 538.0 L1527.0 537.9 L1528.5 536.7 L1530.0 536.2 L1531.5 534.7 L1533.0 533.8 L1534.5 532.6 L1536.0 530.9 L1537.5 528.6 L1539.0 529.1 L1540.0 528.5 L1540.5 528.1 L1542.0 528.7 L1543.5 530.2 L1545.0 531.8 L1546.5 532.8 L1548.0 533.7 L1549.5 535.8 L1551.0 536.8 L1552.5 538.7 L1554.0 537.6 L1555.5 539.8 L1557.0 539.8 L1558.5 539.4 L1560.0 540.2 L1561.5 539.7 L1563.0 540.2 L1564.5 539.5 L1566.0 539.9 L1567.5 539.4 L1569.0 539.2 L1570.5 539.9 L1572.0 539.7 L1573.5 540.3 L1575.0 540.6 L1576.5 540.0 L1578.0 540.1 L1579.5 540.2 L1581.0 539.4 L1582.5 540.2 L1584.0 540.1 L1585.5 540.1 L1587.0 539.6 L1588.5 539.2 L1590.0 540.0 L1591.5 540.3 L1593.0 540.7 L1594.5 540.6 L1596.0 540.8 L1597.5 540.3 L1599.0 540.6 L1600.5 540.0 L1602.0 540.4 L1603.5 540.5 L1605.0 541.3 L1606.5 540.2 L1608.0 539.5 L1609.5 540.7 L1611.0 539.7 L1612.5 540.0 L1614.0 539.9 L1615.5 539.6 L1617.0 540.5 L1618.5 540.2 L1620.0 539.6 L1621.5 539.9 L1623.0 539.6 L1624.5 540.0 L1626.0 539.5 L1627.5 539.2 L1629.0 539.2 L1630.5 539.1 L1632.0 539.2 L1633.5 538.3 L1635.0 538.3 L1636.5 537.8 L1638.0 537.7 L1639.5 535.7 L1641.0 532.2 L1642.5 530.9 L1644.0 527.9 L1645.5 524.6 L1647.0 520.8 L1648.5 515.7 L1650.0 509.4 L1651.5 505.7 L1653.0 501.3 L1654.5 498.0 L1656.0 496.5 L1657.0 495.5 L1657.5 496.1 L1659.0 496.3 L1660.5 500.0 L1662.0 504.2 L1663.5 509.8 L1665.0 513.4 L1666.5 517.8 L1668.0 523.4 L1669.5 526.6 L1671.0 530.9 L1672.5 532.5 L1674.0 534.4 L1675.5 536.8 L1677.0 537.4 L1678.5 538.6 L1680.0 538.0 L1681.5 539.7 L1683.0 539.0 L1684.5 539.8 L1686.0 539.1 L1687.5 538.9 L1689.0 539.6 L1690.5 539.8 L1692.0 540.5 L1693.5 540.0 L1695.0 540.2 L1696.5 540.2 L1698.0 541.4 L1699.5 539.6 L1701.0 540.6 L1702.5 540.0 L1704.0 540.2 L1705.5 539.8 L1707.0 540.6 L1708.5 539.5 L1710.0 539.5 L1711.5 540.0 L1713.0 539.6 L1714.5 540.5 L1716.0 540.6 L1717.5 539.8 L1719.0 540.5 L1720.5 539.9 L1722.0 540.2 L1723.5 540.2 L1725.0 541.1 L1726.5 540.2 L1728.0 539.8 L1729.5 539.8 L1731.0 540.8 L1732.5 539.5 L1734.0 540.0 L1735.5 540.1 L1737.0 539.1 L1738.5 540.0 L1740.0 540.7 L1741.5 540.3 L1743.0 539.8 L1744.5 540.5 L1746.0 540.5 L1747.5 541.1 L1749.0 539.9 L1750.5 540.1 L1752.0 540.2 L1753.5 540.2 L1755.0 540.3 L1756.5 540.2 L1758.0 539.9 L1759.5 539.5 L1761.0 539.9 L1762.5 539.6 L1764.0 539.7 L1765.5 539.9 L1767.0 540.4 L1768.5 540.5 L1770.0 539.7 L1771.5 540.3 L1773.0 540.5 L1774.5 540.1 L1776.0 539.4 L1777.5 539.1 L1779.0 540.4 L1780.5 540.5 L1782.0 540.2 L1783.5 539.6 L1785.0 540.7 L1786.5 540.5 L1788.0 540.0 L1789.5 539.8 L1791.0 539.0 L1792.5 540.2 L1794.0 539.1 L1795.5 540.1 L1797.0 540.1 L1798.5 539.8 L1800.0 540.4 L1801.5 539.5 L1803.0 539.9 L1804.5 539.9 L1806.0 539.6 L1807.5 539.2 L1809.0 539.8 L1810.5 539.4 L1812.0 539.0 L1813.5 538.8 L1815.0 538.8 L1816.5 539.4 L1818.0 538.1 L1819.5 537.3 L1821.0 536.1 L1822.5 534.8 L1824.0 532.8 L1825.5 531.3 L1827.0 527.9 L1828.5 523.1 L1830.0 517.3 L1831.5 511.1 L1833.0 503.2 L1834.5 494.2 L1836.0 485.9 L1837.5 477.0 L1839.0 469.0 L1840.5 463.2 L1842.0 459.0 L1843.0 458.6 L1843.5 458.3 L1845.0 461.6 L1846.5 467.0 L1848.0 474.0 L1849.5 482.9 L1851.0 491.3 L1852.5 500.0 L1854.0 508.7 L1855.5 515.6 L1857.0 522.1 L1858.5 526.6 L1860.0 530.5 L1861.5 533.1 L1863.0 535.0 L1864.5 536.3 L1866.0 537.0 L1867.5 537.6 L1869.0 539.2 L1870.5 537.8 L1872.0 538.8 L1873.5 539.5 L1875.0 539.3 L1876.5 539.9 L1878.0 539.6 L1879.5 538.9 L1881.0 539.4 L1882.5 539.0 L1884.0 540.1 L1885.5 540.4 L1887.0 539.6 L1888.5 540.0 L1890.0 539.7 L1891.5 539.2 L1893.0 539.7 L1894.5 539.2 L1896.0 539.7 L1897.5 540.1 L1899.0 540.3 L1900.5 540.6 L1902.0 539.9 L1903.5 540.2 L1905.0 540.3 L1906.5 540.4 L1908.0 538.8 L1909.5 539.8 L1911.0 540.5 L1912.5 539.7 L1914.0 540.3 L1915.5 540.6 L1917.0 539.3 L1918.5 540.1 L1920.0 540.3 L1921.5 540.2 L1923.0 539.5 L1924.5 540.4 L1926.0 540.0 L1927.5 540.6 L1929.0 540.5 L1930.5 540.0 L1932.0 540.4 L1933.5 540.0 L1935.0 540.0 L1936.5 539.6 L1938.0 540.2 L1939.5 540.7 L1941.0 540.3 L1942.5 540.3 L1944.0 540.0 L1945.5 540.1 L1947.0 540.6 L1948.5 539.6 L1950.0 541.2 L1951.5 540.3 L1953.0 541.3 L1954.5 540.9 L1956.0 540.1 L1957.5 540.7 L1959.0 540.4 L1960.5 540.5 L1962.0 540.7 L1963.5 540.1 L1965.0 540.1 L1966.5 540.1 L1968.0 539.7 L1969.5 540.2 L1971.0 540.4 L1972.5 540.5 L1974.0 540.4 L1975.5 540.2 L1977.0 540.7 L1978.5 539.4 L1980.0 540.2 L1981.5 540.2 L1983.0 540.8 L1984.5 540.6 L1986.0 540.7 L1987.5 540.4 L1989.0 540.8 L1990.5 539.9 L1992.0 540.4 L1993.5 539.4 L1995.0 541.1 L1996.5 541.1 L1998.0 540.1 L1999.5 540.0 L2001.0 539.4 L2002.5 539.7 L2004.0 540.4 L2005.5 540.3 L2007.0 539.7 L2008.5 540.1 L2010.0 540.1 L2011.5 540.6 L2013.0 540.7 L2014.5 540.3 L2016.0 540.4 L2017.5 540.4 L2019.0 539.4 L2020.5 540.4 L2022.0 540.3 L2023.5 540.7 L2025.0 539.5 L2026.5 540.7 L2028.0 540.1 L2029.5 540.5 L2031.0 540.9 L2032.5 539.7 L2034.0 539.8 L2035.5 540.8 L2037.0 539.9 L2038.5 539.9 L2040.0 540.6 L2041.5 540.3 L2043.0 540.7 L2044.5 540.5 L2046.0 540.4 L2047.5 540.8 L2049.0 541.4 L2050.5 540.3 L2052.0 541.0 L2053.5 540.9 L2055.0 540.4 L2056.5 540.6 L2058.0 539.9 L2059.5 540.1 L2061.0 540.5 L2062.5 540.3 L2064.0 541.0 L2065.5 539.8 L2067.0 540.2 L2068.5 540.1 L2070.0 540.3 L2071.5 540.9 L2073.0 539.8 L2074.5 540.7 L2076.0 540.1 L2077.5 540.2 L2079.0 540.8 L2080.5 540.2 L2082.0 540.7 L2083.5 540.4 L2085.0 540.3 L2086.5 540.2 L2088.0 539.6 L2089.5 540.0 L2091.0 540.4 L2092.5 540.4 L2094.0 539.7 L2095.5 540.8 L2097.0 540.6 L2098.5 539.7 L2100.0 539.9 L2101.5 540.5 L2103.0 539.5 L2104.5 540.0 L2106.0 540.3 L2107.5 540.2 L2109.0 540.2 L2110.5 540.4 L2112.0 539.8 L2113.5 539.9 L2115.0 541.0 L2116.5 539.3 L2118.0 539.6 L2119.5 539.7 L2121.0 539.1 L2122.5 539.7 L2124.0 539.0 L2125.5 539.1 L2127.0 537.4 L2128.5 539.0 L2129.0 538.5 L2130.0 538.1 L2131.5 539.2 L2133.0 538.9 L2134.5 539.4 L2136.0 540.1 L2137.5 539.5 L2139.0 539.2 L2140.5 539.8 L2142.0 539.4 L2143.5 539.7 L2145.0 539.8 L2146.5 539.9 L2148.0 540.7 L2149.5 540.6 L2151.0 539.9 L2152.5 540.8 L2154.0 539.5 L2155.5 540.0 L2157.0 540.2 L2158.5 540.8 L2160.0 540.6 L2161.5 540.5 L2163.0 540.9 L2164.5 540.6 L2166.0 540.9 L2167.5 540.0 L2169.0 539.5 L2170.5 540.1 L2172.0 540.7 L2173.5 540.4 L2175.0 540.7 L2176.5 540.6 L2178.0 540.5 L2179.5 540.7 L2181.0 540.0 L2182.5 540.8 L2184.0 539.8 L2185.5 540.2 L2187.0 539.6 L2188.5 540.5 L2190.0 539.5 L2191.5 540.8 L2193.0 539.6 L2194.5 540.3 L2196.0 540.1 L2197.5 539.8 L2199.0 540.7 L2200.5 539.9 L2202.0 540.7 L2203.5 539.6 L2205.0 539.6 L2206.5 539.0 L2208.0 540.1 L2209.5 540.2 L2211.0 539.8 L2212.5 539.6 L2214.0 539.1 L2215.5 540.4 L2217.0 539.4 L2218.5 537.9 L2220.0 538.1 L2221.5 536.5 L2223.0 537.6 L2224.5 537.0 L2226.0 535.7 L2227.5 533.9 L2229.0 532.5 L2230.5 531.0 L2232.0 530.9 L2233.5 529.6 L2235.0 529.7 L2236.5 529.6 L2238.0 530.5 L2239.5 532.0 L2241.0 533.5 L2242.5 534.0 L2244.0 535.1 L2245.5 535.6 L2247.0 536.4 L2248.5 537.2 L2250.0 538.6 L2251.5 538.8 L2253.0 539.5 L2254.5 539.5 L2256.0 539.3 L2257.5 539.1 L2259.0 539.6 L2260.5 539.2 L2262.0 540.8" fill="none" stroke="#ff4040" stroke-width="11" stroke-linejoin="round" stroke-linecap="butt"/>
<path d="M246.0 770.4 L247.5 768.3 L249.0 769.6 L250.5 769.2 L252.0 769.3 L253.5 769.4 L255.0 768.6 L256.5 769.4 L258.0 769.1 L259.5 771.0 L261.0 769.6 L262.5 769.3 L264.0 769.3 L265.5 769.2 L267.0 769.0 L268.5 769.3 L270.0 769.7 L271.5 769.3 L273.0 769.9 L274.5 769.4 L276.0 769.5 L277.5 770.1 L279.0 769.7 L280.5 769.2 L282.0 769.4 L283.5 769.7 L285.0 770.3 L286.5 769.3 L288.0 769.3 L289.5 769.9 L291.0 769.0 L292.5 769.3 L294.0 769.8 L295.5 769.7 L297.0 769.5 L298.5 769.7 L300.0 768.2 L301.5 769.9 L303.0 769.0 L304.5 768.7 L306.0 769.6 L307.5 769.7 L309.0 769.2 L310.5 768.9 L312.0 769.4 L313.5 769.4 L315.0 770.1 L316.5 769.8 L318.0 769.5 L319.5 769.9 L321.0 769.3 L322.5 769.0 L324.0 769.7 L325.5 769.7 L327.0 769.3 L328.5 769.1 L330.0 769.5 L331.5 768.3 L333.0 769.7 L334.5 769.6 L336.0 768.7 L337.5 769.4 L339.0 768.9 L340.5 769.7 L342.0 768.5 L343.5 769.0 L345.0 769.7 L346.5 769.9 L348.0 768.4 L349.5 769.1 L351.0 769.5 L352.5 769.1 L354.0 770.0 L355.5 768.8 L357.0 769.5 L358.5 768.8 L360.0 769.9 L361.5 769.3 L363.0 769.1 L364.5 768.5 L366.0 770.0 L367.5 769.6 L369.0 769.6 L370.5 769.7 L372.0 769.4 L373.5 768.9 L375.0 768.8 L376.5 768.8 L378.0 769.7 L379.5 768.4 L381.0 768.8 L382.5 768.9 L384.0 769.1 L385.5 769.2 L387.0 768.3 L388.5 768.0 L390.0 768.7 L391.5 769.2 L393.0 768.8 L394.5 768.5 L396.0 768.0 L397.5 768.0 L399.0 767.4 L400.5 767.4 L402.0 765.9 L403.5 765.4 L405.0 764.1 L406.5 762.8 L408.0 760.9 L409.5 759.9 L411.0 757.3 L412.5 755.2 L414.0 752.1 L415.5 752.0 L416.0 752.1 L417.0 752.6 L418.5 752.4 L420.0 755.7 L421.5 757.8 L423.0 758.9 L424.5 761.0 L426.0 762.8 L427.5 764.6 L429.0 766.0 L430.5 767.5 L432.0 767.1 L433.5 768.0 L435.0 768.1 L436.5 769.0 L438.0 768.7 L439.5 769.2 L441.0 768.2 L442.5 768.6 L444.0 768.4 L445.5 769.5 L447.0 769.2 L448.5 768.8 L450.0 768.8 L451.5 769.3 L453.0 768.8 L454.5 768.7 L456.0 769.3 L457.5 770.3 L459.0 769.1 L460.5 768.9 L462.0 768.7 L463.5 768.6 L465.0 769.5 L466.5 769.6 L468.0 769.3 L469.5 769.4 L471.0 769.3 L472.5 769.4 L474.0 768.6 L475.5 769.1 L477.0 769.4 L478.5 769.0 L480.0 769.1 L481.5 769.0 L483.0 769.2 L484.5 769.7 L486.0 769.2 L487.5 769.3 L489.0 769.7 L490.5 769.6 L492.0 770.1 L493.5 768.4 L495.0 769.8 L496.5 769.2 L498.0 769.4 L499.5 769.8 L501.0 769.9 L502.5 769.8 L504.0 769.5 L505.5 770.1 L507.0 769.3 L508.5 769.3 L510.0 769.7 L511.5 769.1 L513.0 770.4 L514.5 769.9 L516.0 770.4 L517.5 769.4 L519.0 769.2 L520.5 769.5 L522.0 769.7 L523.5 769.1 L525.0 769.6 L526.5 769.4 L528.0 770.1 L529.5 769.1 L531.0 769.9 L532.5 769.1 L534.0 769.0 L535.5 769.1 L537.0 768.9 L538.5 769.5 L540.0 769.9 L541.5 769.5 L543.0 769.7 L544.5 770.1 L546.0 769.5 L547.5 769.5 L549.0 769.3 L550.5 768.7 L552.0 769.8 L553.5 768.6 L555.0 769.7 L556.5 769.4 L558.0 769.9 L559.5 769.4 L561.0 769.0 L562.5 769.6 L564.0 769.2 L565.5 769.3 L567.0 769.4 L568.5 769.3 L570.0 769.3 L571.5 769.0 L573.0 769.3 L574.5 768.4 L576.0 769.3 L577.5 768.9 L579.0 769.9 L580.5 770.0 L582.0 768.5 L583.5 769.5 L585.0 769.3 L586.5 768.9 L588.0 769.6 L589.5 769.2 L591.0 768.6 L592.5 769.3 L594.0 769.3 L595.5 769.4 L597.0 768.8 L598.5 769.6 L600.0 769.7 L601.5 768.8 L603.0 769.0 L604.5 769.2 L606.0 769.0 L607.5 769.9 L609.0 769.2 L610.5 768.6 L612.0 768.6 L613.5 768.9 L615.0 769.8 L616.5 768.6 L618.0 768.6 L619.5 768.7 L621.0 768.3 L622.5 769.1 L624.0 767.7 L625.5 768.0 L627.0 767.6 L628.5 767.5 L630.0 766.5 L631.5 767.5 L633.0 766.4 L634.5 766.2 L636.0 765.5 L637.5 765.3 L639.0 765.6 L640.5 765.5 L642.0 765.1 L643.5 765.1 L645.0 764.6 L646.5 764.1 L648.0 764.3 L649.5 764.0 L651.0 763.6 L652.5 763.9 L654.0 764.1 L655.0 763.5 L655.5 763.3 L657.0 763.9 L658.5 764.5 L660.0 763.8 L661.5 764.1 L663.0 764.4 L664.5 765.3 L666.0 764.3 L667.5 765.7 L669.0 766.4 L670.5 765.9 L672.0 767.3 L673.5 767.3 L675.0 767.1 L676.5 767.7 L678.0 767.2 L679.5 767.9 L681.0 769.2 L682.5 768.2 L684.0 769.5 L685.5 768.8 L687.0 769.4 L688.5 769.0 L690.0 768.1 L691.5 768.9 L693.0 769.3 L694.5 768.7 L696.0 768.6 L697.5 769.4 L699.0 768.9 L700.5 768.5 L702.0 768.9 L703.5 769.6 L705.0 769.0 L706.5 769.7 L708.0 769.9 L709.5 769.2 L711.0 768.7 L712.5 768.6 L714.0 769.2 L715.5 769.6 L717.0 769.3 L718.5 769.4 L720.0 769.0 L721.5 769.3 L723.0 768.9 L724.5 769.0 L726.0 768.5 L727.5 768.4 L729.0 768.9 L730.5 768.6 L732.0 768.6 L733.5 769.3 L735.0 769.0 L736.5 770.3 L738.0 769.4 L739.5 768.7 L741.0 769.3 L742.5 769.0 L744.0 768.5 L745.5 769.3 L747.0 768.4 L748.5 767.3 L750.0 769.0 L751.5 768.3 L753.0 769.2 L754.5 768.2 L756.0 767.9 L757.5 769.0 L759.0 767.7 L760.5 768.1 L762.0 768.4 L763.5 767.5 L765.0 766.9 L766.5 766.3 L768.0 765.7 L769.5 763.5 L771.0 762.2 L772.5 759.6 L774.0 757.0 L775.5 751.5 L777.0 746.2 L778.5 741.1 L780.0 734.2 L781.5 728.0 L783.0 721.7 L784.5 716.9 L786.0 712.2 L787.5 710.6 L788.0 710.5 L789.0 710.6 L790.5 714.3 L792.0 717.7 L793.5 723.3 L795.0 729.5 L796.5 736.8 L798.0 742.8 L799.5 747.8 L801.0 753.4 L802.5 757.2 L804.0 760.5 L805.5 762.3 L807.0 765.1 L808.5 765.8 L810.0 766.4 L811.5 766.8 L813.0 767.3 L814.5 768.1 L816.0 767.8 L817.5 768.5 L819.0 768.4 L820.5 768.9 L822.0 768.7 L823.5 768.3 L825.0 767.6 L826.5 768.6 L828.0 768.9 L829.5 768.6 L831.0 768.8 L832.5 768.4 L834.0 768.4 L835.5 768.2 L837.0 769.3 L838.5 768.7 L840.0 768.4 L841.5 768.1 L843.0 768.6 L844.5 769.3 L846.0 768.9 L847.5 768.4 L849.0 769.3 L850.5 769.3 L852.0 769.1 L853.5 769.0 L855.0 769.2 L856.5 768.9 L858.0 769.0 L859.5 768.3 L861.0 769.3 L862.5 768.7 L864.0 769.5 L865.5 767.7 L867.0 768.9 L868.5 769.0 L870.0 768.4 L871.5 768.7 L873.0 768.8 L874.5 768.7 L876.0 768.2 L877.5 768.3 L879.0 768.8 L880.5 768.9 L882.0 768.3 L883.5 768.3 L885.0 768.3 L886.5 768.6 L888.0 767.6 L889.5 767.4 L891.0 768.0 L892.5 767.4 L894.0 767.6 L895.5 767.8 L897.0 767.9 L898.5 767.2 L900.0 767.9 L901.5 766.7 L903.0 767.6 L904.5 766.5 L906.0 766.5 L907.5 767.3 L909.0 766.7 L910.5 766.3 L912.0 766.3 L913.5 766.5 L915.0 766.1 L916.5 765.9 L918.0 766.1 L919.5 765.0 L921.0 764.8 L922.5 764.4 L924.0 764.8 L925.5 764.3 L927.0 763.9 L928.5 762.7 L930.0 761.9 L931.5 761.6 L933.0 760.0 L934.5 759.3 L936.0 757.7 L937.5 754.9 L939.0 752.2 L940.5 748.1 L942.0 743.2 L943.5 735.7 L945.0 723.9 L946.5 710.2 L948.0 691.8 L949.5 672.2 L951.0 648.5 L952.5 622.7 L954.0 598.8 L955.5 576.5 L957.0 563.2 L958.2 559.6 L958.5 559.2 L960.0 566.5 L961.5 581.0 L963.0 600.0 L964.5 623.5 L966.0 648.9 L967.5 672.1 L969.0 692.8 L970.5 711.3 L972.0 726.2 L973.5 737.6 L975.0 746.6 L976.5 752.6 L978.0 757.6 L979.5 760.3 L981.0 762.0 L982.5 763.5 L984.0 764.5 L985.5 764.9 L987.0 764.5 L988.5 765.8 L990.0 765.7 L991.5 766.6 L993.0 766.1 L994.5 766.4 L996.0 766.2 L997.5 766.7 L999.0 765.7 L1000.5 764.9 L1002.0 764.4 L1003.5 763.0 L1005.0 762.1 L1006.5 760.8 L1008.0 759.8 L1009.5 760.0 L1010.0 759.1 L1011.0 759.3 L1012.5 760.1 L1014.0 761.9 L1015.5 762.5 L1017.0 764.0 L1018.5 765.4 L1020.0 766.6 L1021.5 766.9 L1023.0 767.2 L1024.5 767.4 L1026.0 768.2 L1027.5 768.8 L1029.0 768.4 L1030.5 768.4 L1032.0 768.6 L1033.5 768.1 L1035.0 768.4 L1036.5 768.5 L1038.0 768.8 L1039.5 768.7 L1041.0 768.2 L1042.5 769.3 L1044.0 769.6 L1045.5 768.7 L1047.0 769.0 L1048.5 769.0 L1050.0 769.3 L1051.5 768.3 L1053.0 769.7 L1054.5 768.7 L1056.0 769.5 L1057.5 769.0 L1059.0 768.8 L1060.5 769.0 L1062.0 769.4 L1063.5 768.7 L1065.0 768.9 L1066.5 768.9 L1068.0 768.3 L1069.5 769.7 L1071.0 769.4 L1072.5 769.1 L1074.0 769.6 L1075.5 768.7 L1077.0 769.1 L1078.5 769.9 L1080.0 769.6 L1081.5 768.1 L1083.0 767.7 L1084.5 768.7 L1086.0 769.6 L1087.5 769.0 L1089.0 769.1 L1090.5 769.5 L1092.0 768.8 L1093.5 769.3 L1095.0 769.5 L1096.5 769.4 L1098.0 769.4 L1099.5 768.9 L1101.0 769.4 L1102.5 769.0 L1104.0 769.8 L1105.5 770.4 L1107.0 768.9 L1108.5 768.2 L1110.0 769.0 L1111.5 769.4 L1113.0 769.7 L1114.5 769.7 L1116.0 768.9 L1117.5 768.8 L1119.0 769.8 L1120.5 768.7 L1122.0 769.7 L1123.5 769.1 L1125.0 769.5 L1126.5 769.5 L1128.0 769.5 L1129.5 769.6 L1131.0 768.7 L1132.5 769.3 L1134.0 769.2 L1135.5 769.3 L1137.0 769.7 L1138.5 769.0 L1140.0 768.8 L1141.5 768.8 L1143.0 769.0 L1144.5 769.5 L1146.0 768.7 L1147.5 769.6 L1149.0 769.2 L1150.5 769.0 L1152.0 768.5 L1153.5 769.1 L1155.0 769.3 L1156.5 768.2 L1158.0 769.5 L1159.5 769.7 L1161.0 769.1 L1162.5 769.1 L1164.0 769.9 L1165.5 769.4 L1167.0 768.4 L1168.5 768.7 L1170.0 768.6 L1171.5 768.5 L1173.0 767.4 L1174.5 768.7 L1176.0 768.0 L1177.5 768.2 L1179.0 767.8 L1180.5 767.9 L1182.0 766.8 L1183.5 765.8 L1185.0 765.3 L1186.5 764.1 L1188.0 761.2 L1189.5 759.1 L1191.0 755.0 L1192.5 750.3 L1194.0 746.2 L1195.5 739.6 L1197.0 734.5 L1198.5 728.1 L1200.0 723.4 L1201.5 718.7 L1203.0 716.6 L1204.0 716.5 L1204.5 716.7 L1206.0 718.3 L1207.5 721.6 L1209.0 726.8 L1210.5 731.5 L1212.0 737.5 L1213.5 743.6 L1215.0 748.6 L1216.5 753.2 L1218.0 757.4 L1219.5 760.4 L1221.0 762.7 L1222.5 765.3 L1224.0 766.3 L1225.5 767.3 L1227.0 767.3 L1228.5 767.5 L1230.0 767.4 L1231.5 768.1 L1233.0 767.5 L1234.5 768.2 L1236.0 768.9 L1237.5 769.4 L1239.0 769.2 L1240.5 768.4 L1242.0 769.1 L1243.5 768.5 L1245.0 769.3 L1246.5 768.9 L1248.0 769.4 L1249.5 770.2 L1251.0 769.5 L1252.5 770.1 L1254.0 769.2 L1255.5 769.0 L1257.0 769.7 L1258.5 769.9 L1260.0 768.9 L1261.5 769.2 L1263.0 768.5 L1264.5 769.1 L1266.0 769.6 L1267.5 769.2 L1269.0 769.0 L1270.5 768.6 L1272.0 769.4 L1273.5 769.6 L1275.0 769.5 L1276.5 769.4 L1278.0 768.7 L1279.5 770.1 L1281.0 769.3 L1282.5 769.2 L1284.0 769.6 L1285.5 768.3 L1287.0 769.3 L1288.5 769.3 L1290.0 769.5 L1291.5 769.9 L1293.0 769.5 L1294.5 768.5 L1296.0 769.2 L1297.5 769.4 L1299.0 769.4 L1300.5 768.8 L1302.0 768.6 L1303.5 769.6 L1305.0 769.5 L1306.5 769.3 L1308.0 768.6 L1309.5 770.2 L1311.0 768.1 L1312.5 769.2 L1314.0 770.3 L1315.5 769.3 L1317.0 769.5 L1318.5 768.8 L1320.0 770.0 L1321.5 768.8 L1323.0 769.5 L1324.5 769.4 L1326.0 768.9 L1327.5 769.8 L1329.0 768.8 L1330.5 769.1 L1332.0 769.4 L1333.5 769.2 L1335.0 769.6 L1336.5 769.8 L1338.0 769.3 L1339.5 769.2 L1341.0 769.2 L1342.5 769.2 L1344.0 769.8 L1345.5 769.3 L1347.0 769.6 L1348.5 769.4 L1350.0 769.0 L1351.5 769.8 L1353.0 768.9 L1354.5 769.4 L1356.0 770.1 L1357.5 768.9 L1359.0 769.4 L1360.5 768.7 L1362.0 769.2 L1363.5 768.7 L1365.0 769.2 L1366.5 769.2 L1368.0 769.5 L1369.5 770.1 L1371.0 769.5 L1372.5 769.7 L1374.0 769.4 L1375.5 769.3 L1377.0 769.0 L1378.5 768.6 L1380.0 769.4 L1381.5 770.1 L1383.0 769.6 L1384.5 769.2 L1386.0 770.2 L1387.5 769.2 L1389.0 769.1 L1390.5 768.9 L1392.0 769.0 L1393.5 769.3 L1395.0 770.3 L1396.5 769.3 L1398.0 769.0 L1399.5 769.1 L1401.0 769.3 L1402.5 768.6 L1404.0 769.5 L1405.5 769.7 L1407.0 769.6 L1408.5 769.7 L1410.0 768.8 L1411.5 768.6 L1413.0 770.0 L1414.5 769.9 L1416.0 768.7 L1417.5 769.5 L1419.0 769.4 L1420.5 769.7 L1422.0 769.5 L1423.5 769.2 L1425.0 769.5 L1426.5 769.5 L1428.0 769.4 L1429.5 768.6 L1431.0 768.1 L1432.5 769.0 L1434.0 768.7 L1435.5 769.5 L1437.0 769.7 L1438.5 769.5 L1440.0 769.2 L1441.5 769.4 L1443.0 769.9 L1444.5 769.1 L1446.0 769.8 L1447.5 769.7 L1449.0 769.5 L1450.5 770.0 L1452.0 769.1 L1453.5 769.8 L1455.0 769.0 L1456.5 769.0 L1458.0 768.9 L1459.5 769.6 L1461.0 769.0 L1462.5 769.4 L1464.0 768.9 L1465.5 769.8 L1467.0 770.2 L1468.5 769.5 L1470.0 770.1 L1471.5 769.6 L1473.0 770.3 L1474.5 769.4 L1476.0 768.6 L1477.5 770.0 L1479.0 769.3 L1480.5 768.9 L1482.0 769.0 L1483.5 768.6 L1485.0 769.2 L1486.5 768.8 L1488.0 770.0 L1489.5 769.6 L1491.0 768.5 L1492.5 768.6 L1494.0 769.0 L1495.5 768.4 L1497.0 769.2 L1498.5 769.2 L1500.0 768.9 L1501.5 768.9 L1503.0 769.4 L1504.5 769.8 L1506.0 769.8 L1507.5 769.1 L1509.0 769.4 L1510.5 768.7 L1512.0 769.2 L1513.5 768.5 L1515.0 769.2 L1516.5 768.2 L1518.0 768.2 L1519.5 768.6 L1521.0 768.6 L1522.5 767.5 L1524.0 767.6 L1525.5 767.4 L1527.0 766.9 L1528.5 765.6 L1530.0 765.0 L1531.5 763.7 L1533.0 763.1 L1534.5 761.2 L1536.0 758.9 L1537.5 757.2 L1539.0 757.5 L1540.0 757.3 L1540.5 757.4 L1542.0 758.3 L1543.5 758.8 L1545.0 759.8 L1546.5 762.3 L1548.0 763.4 L1549.5 764.9 L1551.0 765.0 L1552.5 766.6 L1554.0 766.9 L1555.5 768.0 L1557.0 767.8 L1558.5 768.0 L1560.0 768.2 L1561.5 769.2 L1563.0 768.7 L1564.5 768.4 L1566.0 768.4 L1567.5 768.4 L1569.0 769.6 L1570.5 768.2 L1572.0 768.6 L1573.5 769.3 L1575.0 769.6 L1576.5 769.0 L1578.0 769.4 L1579.5 769.4 L1581.0 769.6 L1582.5 769.1 L1584.0 769.9 L1585.5 769.2 L1587.0 769.8 L1588.5 768.7 L1590.0 769.6 L1591.5 768.6 L1593.0 768.5 L1594.5 769.4 L1596.0 768.8 L1597.5 769.3 L1599.0 768.7 L1600.5 769.9 L1602.0 769.1 L1603.5 768.6 L1605.0 769.2 L1606.5 769.5 L1608.0 768.7 L1609.5 769.3 L1611.0 770.0 L1612.5 769.4 L1614.0 769.0 L1615.5 768.7 L1617.0 769.2 L1618.5 768.2 L1620.0 767.5 L1621.5 768.6 L1623.0 768.3 L1624.5 769.5 L1626.0 768.7 L1627.5 768.2 L1629.0 768.0 L1630.5 768.6 L1632.0 767.8 L1633.5 767.6 L1635.0 767.3 L1636.5 766.8 L1638.0 765.8 L1639.5 764.5 L1641.0 763.3 L1642.5 761.1 L1644.0 756.6 L1645.5 754.9 L1647.0 749.6 L1648.5 745.4 L1650.0 739.7 L1651.5 735.4 L1653.0 731.1 L1654.5 727.7 L1656.0 726.1 L1657.0 725.3 L1657.5 725.0 L1659.0 726.8 L1660.5 730.1 L1662.0 734.0 L1663.5 738.2 L1665.0 743.1 L1666.5 747.9 L1668.0 751.9 L1669.5 755.6 L1671.0 760.1 L1672.5 761.8 L1674.0 764.0 L1675.5 765.1 L1677.0 767.0 L1678.5 768.0 L1680.0 767.6 L1681.5 768.3 L1683.0 767.9 L1684.5 769.3 L1686.0 769.0 L1687.5 768.3 L1689.0 769.3 L1690.5 769.0 L1692.0 769.0 L1693.5 769.1 L1695.0 768.6 L1696.5 768.7 L1698.0 769.3 L1699.5 769.0 L1701.0 768.6 L1702.5 770.0 L1704.0 769.0 L1705.5 768.9 L1707.0 768.8 L1708.5 769.5 L1710.0 769.6 L1711.5 769.3 L1713.0 769.6 L1714.5 768.5 L1716.0 769.0 L1717.5 769.0 L1719.0 769.2 L1720.5 769.4 L1722.0 768.3 L1723.5 770.6 L1725.0 768.9 L1726.5 769.4 L1728.0 769.6 L1729.5 769.6 L1731.0 769.4 L1732.5 767.9 L1734.0 768.8 L1735.5 769.6 L1737.0 768.8 L1738.5 768.8 L1740.0 768.2 L1741.5 769.8 L1743.0 769.5 L1744.5 768.9 L1746.0 769.2 L1747.5 769.2 L1749.0 768.7 L1750.5 769.1 L1752.0 769.4 L1753.5 769.5 L1755.0 769.8 L1756.5 769.2 L1758.0 769.0 L1759.5 769.4 L1761.0 768.9 L1762.5 768.6 L1764.0 769.7 L1765.5 769.0 L1767.0 769.2 L1768.5 769.5 L1770.0 768.7 L1771.5 769.5 L1773.0 769.4 L1774.5 769.1 L1776.0 769.3 L1777.5 768.8 L1779.0 768.1 L1780.5 769.0 L1782.0 768.7 L1783.5 769.4 L1785.0 769.2 L1786.5 768.8 L1788.0 769.0 L1789.5 769.6 L1791.0 769.5 L1792.5 769.1 L1794.0 769.1 L1795.5 768.7 L1797.0 768.8 L1798.5 769.0 L1800.0 768.7 L1801.5 768.8 L1803.0 768.1 L1804.5 767.8 L1806.0 767.7 L1807.5 768.2 L1809.0 768.9 L1810.5 768.8 L1812.0 767.7 L1813.5 767.2 L1815.0 768.1 L1816.5 767.7 L1818.0 766.5 L1819.5 767.0 L1821.0 765.8 L1822.5 765.1 L1824.0 762.9 L1825.5 760.8 L1827.0 757.3 L1828.5 752.4 L1830.0 747.3 L1831.5 740.5 L1833.0 733.5 L1834.5 724.2 L1836.0 715.0 L1837.5 707.3 L1839.0 699.8 L1840.5 693.9 L1842.0 690.2 L1843.0 689.0 L1843.5 688.9 L1845.0 691.5 L1846.5 697.0 L1848.0 703.3 L1849.5 712.8 L1851.0 721.8 L1852.5 729.9 L1854.0 738.4 L1855.5 745.9 L1857.0 751.2 L1858.5 756.3 L1860.0 759.9 L1861.5 762.3 L1863.0 764.2 L1864.5 765.2 L1866.0 766.8 L1867.5 766.7 L1869.0 767.0 L1870.5 768.0 L1872.0 767.6 L1873.5 768.3 L1875.0 768.7 L1876.5 768.4 L1878.0 768.5 L1879.5 768.9 L1881.0 768.9 L1882.5 767.9 L1884.0 768.1 L1885.5 769.3 L1887.0 769.0 L1888.5 767.9 L1890.0 768.3 L1891.5 768.9 L1893.0 768.5 L1894.5 769.2 L1896.0 769.0 L1897.5 769.2 L1899.0 768.5 L1900.5 769.3 L1902.0 770.0 L1903.5 768.8 L1905.0 769.7 L1906.5 769.6 L1908.0 769.4 L1909.5 769.1 L1911.0 768.7 L1912.5 768.8 L1914.0 769.6 L1915.5 769.7 L1917.0 769.8 L1918.5 769.7 L1920.0 769.7 L1921.5 769.1 L1923.0 768.7 L1924.5 769.4 L1926.0 769.5 L1927.5 769.3 L1929.0 768.6 L1930.5 769.1 L1932.0 768.6 L1933.5 769.4 L1935.0 768.9 L1936.5 769.3 L1938.0 769.5 L1939.5 769.4 L1941.0 770.0 L1942.5 768.9 L1944.0 768.4 L1945.5 769.8 L1947.0 770.0 L1948.5 770.0 L1950.0 769.5 L1951.5 769.6 L1953.0 769.4 L1954.5 768.8 L1956.0 769.1 L1957.5 769.6 L1959.0 769.1 L1960.5 770.2 L1962.0 768.7 L1963.5 769.2 L1965.0 769.9 L1966.5 769.1 L1968.0 768.9 L1969.5 768.8 L1971.0 769.1 L1972.5 770.1 L1974.0 769.6 L1975.5 769.6 L1977.0 769.2 L1978.5 769.8 L1980.0 769.5 L1981.5 769.0 L1983.0 769.2 L1984.5 769.5 L1986.0 769.9 L1987.5 769.4 L1989.0 769.7 L1990.5 770.3 L1992.0 769.1 L1993.5 768.9 L1995.0 769.9 L1996.5 769.6 L1998.0 769.4 L1999.5 769.6 L2001.0 769.3 L2002.5 769.7 L2004.0 769.3 L2005.5 769.8 L2007.0 768.9 L2008.5 769.1 L2010.0 769.5 L2011.5 769.2 L2013.0 769.8 L2014.5 769.4 L2016.0 769.2 L2017.5 769.5 L2019.0 769.2 L2020.5 768.7 L2022.0 768.9 L2023.5 769.1 L2025.0 769.2 L2026.5 769.5 L2028.0 769.9 L2029.5 769.7 L2031.0 770.3 L2032.5 770.0 L2034.0 769.4 L2035.5 770.2 L2037.0 770.0 L2038.5 769.2 L2040.0 769.6 L2041.5 769.9 L2043.0 769.6 L2044.5 769.9 L2046.0 769.6 L2047.5 769.8 L2049.0 769.3 L2050.5 769.6 L2052.0 769.3 L2053.5 769.8 L2055.0 768.7 L2056.5 769.6 L2058.0 770.0 L2059.5 769.7 L2061.0 769.4 L2062.5 769.7 L2064.0 769.1 L2065.5 769.1 L2067.0 769.3 L2068.5 769.4 L2070.0 769.9 L2071.5 769.0 L2073.0 769.9 L2074.5 768.7 L2076.0 769.1 L2077.5 769.4 L2079.0 770.0 L2080.5 769.2 L2082.0 768.5 L2083.5 769.6 L2085.0 769.4 L2086.5 768.9 L2088.0 769.0 L2089.5 769.1 L2091.0 769.5 L2092.5 769.7 L2094.0 768.7 L2095.5 770.4 L2097.0 769.4 L2098.5 769.2 L2100.0 769.7 L2101.5 769.4 L2103.0 770.4 L2104.5 769.8 L2106.0 769.1 L2107.5 769.1 L2109.0 769.0 L2110.5 769.1 L2112.0 769.4 L2113.5 768.8 L2115.0 769.7 L2116.5 768.7 L2118.0 768.5 L2119.5 768.7 L2121.0 767.1 L2122.5 767.2 L2124.0 767.6 L2125.5 766.9 L2127.0 766.7 L2128.5 766.7 L2129.0 766.5 L2130.0 766.5 L2131.5 766.1 L2133.0 766.2 L2134.5 768.0 L2136.0 767.3 L2137.5 767.8 L2139.0 769.0 L2140.5 769.1 L2142.0 768.6 L2143.5 768.7 L2145.0 769.0 L2146.5 768.7 L2148.0 769.5 L2149.5 769.3 L2151.0 769.3 L2152.5 769.6 L2154.0 769.6 L2155.5 770.2 L2157.0 770.0 L2158.5 768.6 L2160.0 769.8 L2161.5 768.9 L2163.0 768.7 L2164.5 769.7 L2166.0 769.1 L2167.5 769.2 L2169.0 769.9 L2170.5 769.1 L2172.0 769.0 L2173.5 769.5 L2175.0 769.9 L2176.5 769.6 L2178.0 768.7 L2179.5 769.1 L2181.0 769.3 L2182.5 770.2 L2184.0 769.8 L2185.5 769.7 L2187.0 769.9 L2188.5 769.2 L2190.0 769.5 L2191.5 769.5 L2193.0 768.9 L2194.5 769.3 L2196.0 769.5 L2197.5 768.8 L2199.0 769.6 L2200.5 769.6 L2202.0 769.7 L2203.5 768.9 L2205.0 769.2 L2206.5 769.8 L2208.0 769.5 L2209.5 768.7 L2211.0 769.1 L2212.5 769.6 L2214.0 768.8 L2215.5 768.9 L2217.0 769.7 L2218.5 768.3 L2220.0 767.9 L2221.5 767.2 L2223.0 766.8 L2224.5 767.2 L2226.0 765.8 L2227.5 764.6 L2229.0 763.9 L2230.5 763.5 L2232.0 763.2 L2233.5 762.0 L2235.0 762.2 L2236.5 762.2 L2238.0 763.0 L2239.5 763.8 L2241.0 764.6 L2242.5 764.9 L2244.0 765.8 L2245.5 766.8 L2247.0 766.5 L2248.5 767.7 L2250.0 768.2 L2251.5 768.8 L2253.0 768.5 L2254.5 768.6 L2256.0 768.9 L2257.5 768.6 L2259.0 768.9 L2260.5 769.3 L2262.0 769.2" fill="none" stroke="#0064e0" stroke-width="11" stroke-linejoin="round" stroke-linecap="butt"/>
<path d="M246.0 982.7 L247.5 982.9 L249.0 983.7 L250.5 983.3 L252.0 982.2 L253.5 983.0 L255.0 982.7 L256.5 983.0 L258.0 982.2 L259.5 983.1 L261.0 983.1 L262.5 983.7 L264.0 983.1 L265.5 983.2 L267.0 982.3 L268.5 984.0 L270.0 982.1 L271.5 983.5 L273.0 982.8 L274.5 982.6 L276.0 982.7 L277.5 982.7 L279.0 983.2 L280.5 982.9 L282.0 983.7 L283.5 982.2 L285.0 983.0 L286.5 982.6 L288.0 983.4 L289.5 982.1 L291.0 982.9 L292.5 983.1 L294.0 982.3 L295.5 983.5 L297.0 983.1 L298.5 983.5 L300.0 983.4 L301.5 982.6 L303.0 982.7 L304.5 982.9 L306.0 983.4 L307.5 983.4 L309.0 982.7 L310.5 982.7 L312.0 982.7 L313.5 982.8 L315.0 982.9 L316.5 983.0 L318.0 984.0 L319.5 982.8 L321.0 982.9 L322.5 983.2 L324.0 982.6 L325.5 982.9 L327.0 983.0 L328.5 983.4 L330.0 982.4 L331.5 983.6 L333.0 982.9 L334.5 983.1 L336.0 983.4 L337.5 983.3 L339.0 983.5 L340.5 983.1 L342.0 983.0 L343.5 983.2 L345.0 982.6 L346.5 983.6 L348.0 982.7 L349.5 982.4 L351.0 983.9 L352.5 982.9 L354.0 982.5 L355.5 983.8 L357.0 982.8 L358.5 983.5 L360.0 982.6 L361.5 982.9 L363.0 982.2 L364.5 982.1 L366.0 982.5 L367.5 982.9 L369.0 983.3 L370.5 984.0 L372.0 982.4 L373.5 983.4 L375.0 982.6 L376.5 982.8 L378.0 982.2 L379.5 982.2 L381.0 982.4 L382.5 982.2 L384.0 982.7 L385.5 982.4 L387.0 983.2 L388.5 982.7 L390.0 982.6 L391.5 983.0 L393.0 982.6 L394.5 982.2 L396.0 982.0 L397.5 981.8 L399.0 982.0 L400.5 981.4 L402.0 980.6 L403.5 980.0 L405.0 978.3 L406.5 977.5 L408.0 975.1 L409.5 974.6 L411.0 972.2 L412.5 970.5 L414.0 969.3 L415.5 968.3 L416.0 968.2 L417.0 969.0 L418.5 969.5 L420.0 970.5 L421.5 972.9 L423.0 973.8 L424.5 977.0 L426.0 977.7 L427.5 979.0 L429.0 981.0 L430.5 981.7 L432.0 981.3 L433.5 982.0 L435.0 982.5 L436.5 982.9 L438.0 982.3 L439.5 982.5 L441.0 983.1 L442.5 982.7 L444.0 983.0 L445.5 983.0 L447.0 982.3 L448.5 982.4 L450.0 981.7 L451.5 982.8 L453.0 983.5 L454.5 982.5 L456.0 983.5 L457.5 983.5 L459.0 983.0 L460.5 983.0 L462.0 983.1 L463.5 982.7 L465.0 983.0 L466.5 983.1 L468.0 983.4 L469.5 983.5 L471.0 982.8 L472.5 983.5 L474.0 982.8 L475.5 983.1 L477.0 983.3 L478.5 983.2 L480.0 983.1 L481.5 983.3 L483.0 982.9 L484.5 982.9 L486.0 983.1 L487.5 983.6 L489.0 983.2 L490.5 984.1 L492.0 983.3 L493.5 981.9 L495.0 983.0 L496.5 984.0 L498.0 983.3 L499.5 983.1 L501.0 982.9 L502.5 983.9 L504.0 983.7 L505.5 983.6 L507.0 983.5 L508.5 983.9 L510.0 983.7 L511.5 982.7 L513.0 983.6 L514.5 983.4 L516.0 983.2 L517.5 983.6 L519.0 983.3 L520.5 982.0 L522.0 984.0 L523.5 983.8 L525.0 983.3 L526.5 983.1 L528.0 983.4 L529.5 982.7 L531.0 983.5 L532.5 983.2 L534.0 983.2 L535.5 982.9 L537.0 983.0 L538.5 983.8 L540.0 983.9 L541.5 983.6 L543.0 983.3 L544.5 982.9 L546.0 983.6 L547.5 984.0 L549.0 982.6 L550.5 983.8 L552.0 982.3 L553.5 983.1 L555.0 983.5 L556.5 982.7 L558.0 982.6 L559.5 983.3 L561.0 983.6 L562.5 983.0 L564.0 983.8 L565.5 982.8 L567.0 983.9 L568.5 983.2 L570.0 983.2 L571.5 983.3 L573.0 983.1 L574.5 983.8 L576.0 983.9 L577.5 983.1 L579.0 982.7 L580.5 982.2 L582.0 982.3 L583.5 982.6 L585.0 982.4 L586.5 982.3 L588.0 982.2 L589.5 982.4 L591.0 981.4 L592.5 981.4 L594.0 982.2 L595.5 981.9 L597.0 981.2 L598.5 981.8 L600.0 980.7 L601.5 980.7 L603.0 979.8 L604.5 980.8 L606.0 980.2 L607.5 980.4 L609.0 980.0 L610.5 979.5 L612.0 979.3 L613.5 979.5 L615.0 978.6 L616.5 978.3 L618.0 978.1 L619.5 978.2 L621.0 977.9 L622.5 978.1 L624.0 976.9 L625.5 977.2 L627.0 976.0 L628.5 976.3 L630.0 975.8 L631.5 976.2 L633.0 975.4 L634.5 974.7 L636.0 974.9 L637.5 974.5 L639.0 974.0 L640.5 973.8 L642.0 973.3 L643.5 974.8 L645.0 973.4 L646.5 973.7 L648.0 972.6 L649.5 972.5 L651.0 972.8 L652.5 972.8 L654.0 973.2 L655.5 972.3 L656.0 972.8 L657.0 973.5 L658.5 972.4 L660.0 973.4 L661.5 972.7 L663.0 973.5 L664.5 973.7 L666.0 974.6 L667.5 973.8 L669.0 974.6 L670.5 975.3 L672.0 974.7 L673.5 975.7 L675.0 975.7 L676.5 976.2 L678.0 977.3 L679.5 977.7 L681.0 979.0 L682.5 978.9 L684.0 979.3 L685.5 979.0 L687.0 979.3 L688.5 979.9 L690.0 979.2 L691.5 981.3 L693.0 980.5 L694.5 980.7 L696.0 981.2 L697.5 982.0 L699.0 982.4 L700.5 981.9 L702.0 982.4 L703.5 982.4 L705.0 982.1 L706.5 982.7 L708.0 982.8 L709.5 982.2 L711.0 983.4 L712.5 982.3 L714.0 983.2 L715.5 982.7 L717.0 982.8 L718.5 982.9 L720.0 983.6 L721.5 982.7 L723.0 983.2 L724.5 984.0 L726.0 983.0 L727.5 983.3 L729.0 983.6 L730.5 983.0 L732.0 983.5 L733.5 983.0 L735.0 983.6 L736.5 983.3 L738.0 982.8 L739.5 983.9 L741.0 983.2 L742.5 983.0 L744.0 982.7 L745.5 982.9 L747.0 983.0 L748.5 983.1 L750.0 983.5 L751.5 982.4 L753.0 982.7 L754.5 983.4 L756.0 982.9 L757.5 982.9 L759.0 983.3 L760.5 982.6 L762.0 982.4 L763.5 981.9 L765.0 982.3 L766.5 981.4 L768.0 979.7 L769.5 979.1 L771.0 976.6 L772.5 975.3 L774.0 972.1 L775.5 968.0 L777.0 963.4 L778.5 957.6 L780.0 953.1 L781.5 947.0 L783.0 941.5 L784.5 937.2 L786.0 933.2 L787.5 931.6 L788.0 931.8 L789.0 931.6 L790.5 935.6 L792.0 938.3 L793.5 943.2 L795.0 949.4 L796.5 953.3 L798.0 960.1 L799.5 965.1 L801.0 968.9 L802.5 973.0 L804.0 974.7 L805.5 977.7 L807.0 979.6 L808.5 979.3 L810.0 980.4 L811.5 981.5 L813.0 982.0 L814.5 981.9 L816.0 982.5 L817.5 982.6 L819.0 982.0 L820.5 982.6 L822.0 982.1 L823.5 981.8 L825.0 981.7 L826.5 983.3 L828.0 982.8 L829.5 983.8 L831.0 982.3 L832.5 982.8 L834.0 983.1 L835.5 982.9 L837.0 983.2 L838.5 983.1 L840.0 982.7 L841.5 982.0 L843.0 982.6 L844.5 983.8 L846.0 983.4 L847.5 983.7 L849.0 982.8 L850.5 983.0 L852.0 982.7 L853.5 983.2 L855.0 983.1 L856.5 983.2 L858.0 983.8 L859.5 982.6 L861.0 983.3 L862.5 982.4 L864.0 983.5 L865.5 982.8 L867.0 982.9 L868.5 983.0 L870.0 983.7 L871.5 982.9 L873.0 982.7 L874.5 982.3 L876.0 983.0 L877.5 982.4 L879.0 982.5 L880.5 982.7 L882.0 983.0 L883.5 982.3 L885.0 982.9 L886.5 983.4 L888.0 981.9 L889.5 983.1 L891.0 983.4 L892.5 982.1 L894.0 982.6 L895.5 981.6 L897.0 982.3 L898.5 982.0 L900.0 982.2 L901.5 981.5 L903.0 981.5 L904.5 981.5 L906.0 981.3 L907.5 981.2 L909.0 981.2 L910.5 980.7 L912.0 980.9 L913.5 981.0 L915.0 979.6 L916.5 980.5 L918.0 979.8 L919.5 979.4 L921.0 979.0 L922.5 978.8 L924.0 978.5 L925.5 978.5 L927.0 977.3 L928.5 977.8 L930.0 976.3 L931.5 976.1 L933.0 975.3 L934.5 973.1 L936.0 972.6 L937.5 971.0 L939.0 966.9 L940.5 963.4 L942.0 957.5 L943.5 949.9 L945.0 939.4 L946.5 925.7 L948.0 909.4 L949.5 889.2 L951.0 865.6 L952.5 841.6 L954.0 817.2 L955.5 796.3 L957.0 782.0 L958.2 778.7 L958.5 779.5 L960.0 784.2 L961.5 798.7 L963.0 818.7 L964.5 842.3 L966.0 866.4 L967.5 888.7 L969.0 909.7 L970.5 927.6 L972.0 941.2 L973.5 953.2 L975.0 961.2 L976.5 967.5 L978.0 971.6 L979.5 974.0 L981.0 976.0 L982.5 977.8 L984.0 978.7 L985.5 979.2 L987.0 980.2 L988.5 980.0 L990.0 979.8 L991.5 980.4 L993.0 980.6 L994.5 980.7 L996.0 981.3 L997.5 980.8 L999.0 980.7 L1000.5 980.0 L1002.0 978.9 L1003.5 978.4 L1005.0 976.6 L1006.5 975.5 L1008.0 973.9 L1009.5 973.8 L1010.0 973.8 L1011.0 974.1 L1012.5 975.7 L1014.0 977.3 L1015.5 978.1 L1017.0 979.0 L1018.5 980.5 L1020.0 981.1 L1021.5 981.4 L1023.0 982.1 L1024.5 982.3 L1026.0 982.4 L1027.5 983.4 L1029.0 982.7 L1030.5 982.8 L1032.0 983.4 L1033.5 982.9 L1035.0 982.7 L1036.5 982.9 L1038.0 983.6 L1039.5 983.6 L1041.0 983.6 L1042.5 983.3 L1044.0 983.1 L1045.5 983.9 L1047.0 982.9 L1048.5 983.5 L1050.0 983.0 L1051.5 983.5 L1053.0 983.6 L1054.5 984.2 L1056.0 982.4 L1057.5 984.3 L1059.0 983.3 L1060.5 983.9 L1062.0 984.1 L1063.5 983.4 L1065.0 983.8 L1066.5 984.0 L1068.0 983.8 L1069.5 983.5 L1071.0 983.9 L1072.5 983.9 L1074.0 983.2 L1075.5 984.5 L1077.0 984.0 L1078.5 982.8 L1080.0 983.5 L1081.5 984.7 L1083.0 984.6 L1084.5 984.0 L1086.0 983.2 L1087.5 983.8 L1089.0 984.4 L1090.5 984.1 L1092.0 983.8 L1093.5 983.6 L1095.0 984.3 L1096.5 983.9 L1098.0 984.1 L1099.5 984.2 L1101.0 984.7 L1102.5 984.1 L1104.0 984.1 L1105.5 983.2 L1107.0 984.5 L1108.5 984.4 L1110.0 984.0 L1111.5 983.0 L1113.0 983.8 L1114.5 984.1 L1116.0 985.0 L1117.5 984.3 L1119.0 984.4 L1120.5 984.4 L1122.0 984.6 L1123.5 983.5 L1125.0 983.6 L1126.5 983.5 L1128.0 983.9 L1129.5 983.9 L1131.0 984.1 L1132.5 983.6 L1134.0 984.1 L1135.5 983.6 L1137.0 985.0 L1138.5 983.8 L1140.0 985.1 L1141.5 984.7 L1143.0 983.4 L1144.5 984.4 L1146.0 984.2 L1147.5 983.3 L1149.0 984.2 L1150.5 983.9 L1152.0 984.1 L1153.5 983.5 L1155.0 983.9 L1156.5 984.1 L1158.0 983.8 L1159.5 983.5 L1161.0 983.7 L1162.5 983.3 L1164.0 983.9 L1165.5 982.5 L1167.0 984.3 L1168.5 983.6 L1170.0 983.8 L1171.5 983.9 L1173.0 982.8 L1174.5 984.3 L1176.0 982.7 L1177.5 983.2 L1179.0 982.9 L1180.5 983.0 L1182.0 981.8 L1183.5 980.4 L1185.0 980.1 L1186.5 977.3 L1188.0 976.2 L1189.5 973.2 L1191.0 970.6 L1192.5 965.5 L1194.0 960.4 L1195.5 954.7 L1197.0 948.8 L1198.5 943.3 L1200.0 938.7 L1201.5 933.9 L1203.0 932.1 L1204.0 931.7 L1204.5 931.8 L1206.0 933.6 L1207.5 936.4 L1209.0 941.5 L1210.5 947.4 L1212.0 953.5 L1213.5 959.2 L1215.0 964.0 L1216.5 968.1 L1218.0 971.7 L1219.5 975.8 L1221.0 978.4 L1222.5 979.7 L1224.0 981.5 L1225.5 981.5 L1227.0 982.1 L1228.5 983.4 L1230.0 982.6 L1231.5 983.5 L1233.0 983.5 L1234.5 983.6 L1236.0 984.4 L1237.5 983.3 L1239.0 983.5 L1240.5 982.8 L1242.0 983.3 L1243.5 983.6 L1245.0 983.7 L1246.5 983.9 L1248.0 984.1 L1249.5 983.7 L1251.0 983.1 L1252.5 984.1 L1254.0 984.3 L1255.5 983.6 L1257.0 983.8 L1258.5 984.9 L1260.0 984.6 L1261.5 984.7 L1263.0 984.5 L1264.5 984.3 L1266.0 984.0 L1267.5 984.5 L1269.0 984.2 L1270.5 984.1 L1272.0 984.3 L1273.5 984.3 L1275.0 984.7 L1276.5 983.9 L1278.0 985.4 L1279.5 983.9 L1281.0 984.1 L1282.5 984.8 L1284.0 984.0 L1285.5 984.1 L1287.0 984.4 L1288.5 983.0 L1290.0 984.1 L1291.5 983.9 L1293.0 984.3 L1294.5 984.6 L1296.0 984.7 L1297.5 985.1 L1299.0 985.1 L1300.5 984.9 L1302.0 984.4 L1303.5 984.9 L1305.0 984.0 L1306.5 984.4 L1308.0 985.1 L1309.5 984.8 L1311.0 983.8 L1312.5 984.2 L1314.0 984.9 L1315.5 984.7 L1317.0 985.0 L1318.5 983.7 L1320.0 983.9 L1321.5 984.4 L1323.0 984.1 L1324.5 984.5 L1326.0 984.5 L1327.5 984.7 L1329.0 984.5 L1330.5 984.8 L1332.0 984.9 L1333.5 984.6 L1335.0 984.0 L1336.5 985.1 L1338.0 984.6 L1339.5 984.7 L1341.0 984.6 L1342.5 983.8 L1344.0 984.8 L1345.5 984.3 L1347.0 984.0 L1348.5 985.1 L1350.0 984.4 L1351.5 984.7 L1353.0 985.0 L1354.5 985.3 L1356.0 983.7 L1357.5 984.2 L1359.0 984.9 L1360.5 984.3 L1362.0 983.1 L1363.5 984.7 L1365.0 984.7 L1366.5 985.0 L1368.0 984.7 L1369.5 984.4 L1371.0 984.7 L1372.5 984.6 L1374.0 984.4 L1375.5 984.7 L1377.0 984.8 L1378.5 984.2 L1380.0 985.1 L1381.5 985.0 L1383.0 985.0 L1384.5 983.4 L1386.0 984.7 L1387.5 984.6 L1389.0 984.2 L1390.5 984.9 L1392.0 984.0 L1393.5 985.2 L1395.0 984.8 L1396.5 984.4 L1398.0 985.3 L1399.5 984.9 L1401.0 984.8 L1402.5 984.1 L1404.0 984.9 L1405.5 985.3 L1407.0 985.2 L1408.5 984.1 L1410.0 985.3 L1411.5 985.4 L1413.0 985.0 L1414.5 984.5 L1416.0 984.0 L1417.5 984.3 L1419.0 984.4 L1420.5 984.8 L1422.0 984.9 L1423.5 984.3 L1425.0 983.9 L1426.5 984.5 L1428.0 984.1 L1429.5 985.3 L1431.0 984.1 L1432.5 984.9 L1434.0 985.0 L1435.5 984.2 L1437.0 985.1 L1438.5 984.6 L1440.0 984.3 L1441.5 984.2 L1443.0 984.7 L1444.5 985.2 L1446.0 983.8 L1447.5 984.9 L1449.0 984.6 L1450.5 984.3 L1452.0 984.6 L1453.5 984.7 L1455.0 984.6 L1456.5 985.0 L1458.0 984.3 L1459.5 985.6 L1461.0 985.1 L1462.5 984.4 L1464.0 983.8 L1465.5 984.7 L1467.0 984.5 L1468.5 985.0 L1470.0 985.0 L1471.5 985.5 L1473.0 984.6 L1474.5 985.0 L1476.0 984.5 L1477.5 984.5 L1479.0 985.4 L1480.5 984.6 L1482.0 984.6 L1483.5 984.5 L1485.0 984.8 L1486.5 984.9 L1488.0 984.6 L1489.5 984.1 L1491.0 984.8 L1492.5 984.3 L1494.0 984.5 L1495.5 984.7 L1497.0 984.7 L1498.5 983.6 L1500.0 985.4 L1501.5 984.9 L1503.0 985.5 L1504.5 985.7 L1506.0 984.1 L1507.5 984.3 L1509.0 984.6 L1510.5 984.9 L1512.0 984.2 L1513.5 984.2 L1515.0 984.8 L1516.5 983.8 L1518.0 984.3 L1519.5 984.6 L1521.0 983.8 L1522.5 984.1 L1524.0 983.4 L1525.5 982.3 L1527.0 982.3 L1528.5 981.7 L1530.0 980.8 L1531.5 979.9 L1533.0 978.9 L1534.5 977.5 L1536.0 976.2 L1537.5 974.8 L1539.0 974.3 L1540.0 974.2 L1540.5 974.0 L1542.0 975.4 L1543.5 974.9 L1545.0 977.1 L1546.5 977.5 L1548.0 979.2 L1549.5 981.0 L1551.0 981.4 L1552.5 982.9 L1554.0 982.4 L1555.5 983.1 L1557.0 983.3 L1558.5 983.8 L1560.0 983.8 L1561.5 983.9 L1563.0 984.2 L1564.5 984.8 L1566.0 984.4 L1567.5 984.4 L1569.0 984.3 L1570.5 984.1 L1572.0 983.8 L1573.5 984.0 L1575.0 984.5 L1576.5 983.6 L1578.0 984.8 L1579.5 984.3 L1581.0 984.1 L1582.5 984.3 L1584.0 984.8 L1585.5 984.7 L1587.0 984.7 L1588.5 985.4 L1590.0 985.6 L1591.5 984.0 L1593.0 985.0 L1594.5 984.3 L1596.0 984.0 L1597.5 984.4 L1599.0 985.1 L1600.5 984.5 L1602.0 984.4 L1603.5 985.3 L1605.0 984.8 L1606.5 984.6 L1608.0 985.4 L1609.5 984.8 L1611.0 984.3 L1612.5 984.1 L1614.0 984.4 L1615.5 984.6 L1617.0 984.9 L1618.5 984.9 L1620.0 984.5 L1621.5 983.9 L1623.0 984.8 L1624.5 984.4 L1626.0 983.8 L1627.5 983.6 L1629.0 984.2 L1630.5 984.1 L1632.0 984.1 L1633.5 982.9 L1635.0 983.9 L1636.5 981.6 L1638.0 981.5 L1639.5 980.9 L1641.0 979.1 L1642.5 976.0 L1644.0 974.0 L1645.5 970.8 L1647.0 966.7 L1648.5 961.5 L1650.0 958.2 L1651.5 952.2 L1653.0 949.0 L1654.5 945.4 L1656.0 943.9 L1657.0 943.8 L1657.5 944.0 L1659.0 944.6 L1660.5 947.9 L1662.0 952.2 L1663.5 956.0 L1665.0 960.7 L1666.5 965.1 L1668.0 968.7 L1669.5 972.5 L1671.0 975.6 L1672.5 978.2 L1674.0 980.8 L1675.5 982.0 L1677.0 982.0 L1678.5 982.7 L1680.0 982.9 L1681.5 982.7 L1683.0 984.5 L1684.5 984.3 L1686.0 983.3 L1687.5 984.3 L1689.0 985.5 L1690.5 984.7 L1692.0 984.7 L1693.5 984.6 L1695.0 984.2 L1696.5 984.1 L1698.0 984.3 L1699.5 984.7 L1701.0 984.6 L1702.5 985.0 L1704.0 985.5 L1705.5 985.0 L1707.0 985.2 L1708.5 984.6 L1710.0 984.2 L1711.5 985.8 L1713.0 985.2 L1714.5 985.4 L1716.0 984.7 L1717.5 984.1 L1719.0 985.5 L1720.5 983.9 L1722.0 984.8 L1723.5 984.7 L1725.0 985.0 L1726.5 985.3 L1728.0 985.3 L1729.5 984.0 L1731.0 985.4 L1732.5 984.1 L1734.0 985.3 L1735.5 984.8 L1737.0 984.4 L1738.5 984.7 L1740.0 984.4 L1741.5 985.0 L1743.0 985.4 L1744.5 985.3 L1746.0 985.0 L1747.5 985.5 L1749.0 985.2 L1750.5 986.0 L1752.0 985.2 L1753.5 984.7 L1755.0 984.8 L1756.5 984.6 L1758.0 984.8 L1759.5 984.9 L1761.0 985.3 L1762.5 985.3 L1764.0 985.0 L1765.5 985.2 L1767.0 984.6 L1768.5 984.7 L1770.0 983.8 L1771.5 984.6 L1773.0 984.7 L1774.5 986.1 L1776.0 984.3 L1777.5 984.9 L1779.0 984.7 L1780.5 984.2 L1782.0 985.0 L1783.5 984.9 L1785.0 984.2 L1786.5 983.8 L1788.0 984.8 L1789.5 984.1 L1791.0 985.1 L1792.5 984.6 L1794.0 985.0 L1795.5 984.6 L1797.0 985.4 L1798.5 985.0 L1800.0 985.3 L1801.5 984.6 L1803.0 984.0 L1804.5 983.8 L1806.0 984.2 L1807.5 984.5 L1809.0 984.0 L1810.5 985.3 L1812.0 984.0 L1813.5 984.1 L1815.0 983.8 L1816.5 982.9 L1818.0 983.7 L1819.5 983.0 L1821.0 982.5 L1822.5 980.7 L1824.0 979.7 L1825.5 977.6 L1827.0 975.4 L1828.5 970.6 L1830.0 966.8 L1831.5 961.2 L1833.0 953.5 L1834.5 945.6 L1836.0 938.3 L1837.5 929.5 L1839.0 922.3 L1840.5 915.8 L1842.0 911.8 L1843.5 909.9 L1845.0 910.4 L1846.5 915.8 L1848.0 921.5 L1849.5 929.7 L1851.0 937.5 L1852.5 946.8 L1854.0 953.7 L1855.5 961.1 L1857.0 967.0 L1858.5 971.2 L1860.0 975.1 L1861.5 977.7 L1863.0 979.3 L1864.5 981.8 L1866.0 981.7 L1867.5 982.1 L1869.0 983.1 L1870.5 983.7 L1872.0 983.9 L1873.5 983.9 L1875.0 984.0 L1876.5 983.3 L1878.0 984.7 L1879.5 985.3 L1881.0 984.2 L1882.5 983.8 L1884.0 985.0 L1885.5 984.6 L1887.0 982.9 L1888.5 984.5 L1890.0 984.2 L1891.5 984.4 L1893.0 985.9 L1894.5 985.4 L1896.0 984.9 L1897.5 985.0 L1899.0 985.8 L1900.5 984.6 L1902.0 985.4 L1903.5 984.8 L1905.0 985.5 L1906.5 985.3 L1908.0 984.8 L1909.5 985.7 L1911.0 985.5 L1912.5 986.1 L1914.0 985.0 L1915.5 985.3 L1917.0 984.9 L1918.5 985.8 L1920.0 984.9 L1921.5 985.3 L1923.0 985.9 L1924.5 985.6 L1926.0 985.5 L1927.5 985.5 L1929.0 985.5 L1930.5 985.6 L1932.0 985.2 L1933.5 984.4 L1935.0 986.0 L1936.5 984.9 L1938.0 986.2 L1939.5 985.5 L1941.0 986.9 L1942.5 985.9 L1944.0 985.6 L1945.5 985.8 L1947.0 984.8 L1948.5 985.5 L1950.0 985.3 L1951.5 985.4 L1953.0 984.5 L1954.5 984.4 L1956.0 985.8 L1957.5 985.5 L1959.0 985.2 L1960.5 985.4 L1962.0 985.1 L1963.5 985.2 L1965.0 985.8 L1966.5 985.4 L1968.0 985.8 L1969.5 985.1 L1971.0 984.6 L1972.5 985.2 L1974.0 985.4 L1975.5 985.0 L1977.0 985.3 L1978.5 985.3 L1980.0 985.9 L1981.5 985.9 L1983.0 986.0 L1984.5 985.1 L1986.0 985.7 L1987.5 986.1 L1989.0 985.6 L1990.5 985.5 L1992.0 985.2 L1993.5 985.9 L1995.0 985.6 L1996.5 986.0 L1998.0 985.5 L1999.5 986.5 L2001.0 985.5 L2002.5 985.0 L2004.0 985.6 L2005.5 985.8 L2007.0 986.1 L2008.5 985.3 L2010.0 985.3 L2011.5 985.4 L2013.0 985.4 L2014.5 984.6 L2016.0 985.9 L2017.5 986.1 L2019.0 985.2 L2020.5 985.1 L2022.0 985.5 L2023.5 985.2 L2025.0 985.9 L2026.5 985.3 L2028.0 985.9 L2029.5 985.0 L2031.0 984.9 L2032.5 984.9 L2034.0 984.9 L2035.5 985.8 L2037.0 986.0 L2038.5 985.7 L2040.0 985.7 L2041.5 984.6 L2043.0 986.1 L2044.5 985.0 L2046.0 986.2 L2047.5 986.7 L2049.0 985.6 L2050.5 985.9 L2052.0 985.9 L2053.5 985.0 L2055.0 985.1 L2056.5 985.3 L2058.0 985.7 L2059.5 986.0 L2061.0 985.7 L2062.5 986.1 L2064.0 985.4 L2065.5 985.0 L2067.0 985.6 L2068.5 985.6 L2070.0 985.0 L2071.5 986.1 L2073.0 985.2 L2074.5 985.3 L2076.0 985.7 L2077.5 985.1 L2079.0 985.9 L2080.5 985.8 L2082.0 985.8 L2083.5 985.6 L2085.0 985.4 L2086.5 985.3 L2088.0 985.8 L2089.5 986.3 L2091.0 986.0 L2092.5 985.8 L2094.0 986.1 L2095.5 986.2 L2097.0 985.0 L2098.5 985.6 L2100.0 986.1 L2101.5 985.3 L2103.0 985.3 L2104.5 985.8 L2106.0 985.4 L2107.5 986.0 L2109.0 985.3 L2110.5 985.6 L2112.0 986.4 L2113.5 985.7 L2115.0 984.4 L2116.5 984.3 L2118.0 984.0 L2119.5 984.1 L2121.0 983.0 L2122.5 983.3 L2124.0 983.3 L2125.5 982.6 L2127.0 981.0 L2128.5 980.8 L2130.0 980.8 L2131.5 980.5 L2133.0 982.1 L2134.5 981.5 L2136.0 982.0 L2137.5 983.3 L2139.0 983.8 L2140.5 984.8 L2142.0 985.2 L2143.5 984.7 L2145.0 984.0 L2146.5 985.5 L2148.0 985.7 L2149.5 986.2 L2151.0 984.7 L2152.5 985.0 L2154.0 986.3 L2155.5 986.3 L2157.0 986.2 L2158.5 985.6 L2160.0 986.2 L2161.5 985.4 L2163.0 985.1 L2164.5 985.6 L2166.0 985.7 L2167.5 986.0 L2169.0 986.2 L2170.5 984.9 L2172.0 985.8 L2173.5 985.9 L2175.0 985.1 L2176.5 985.6 L2178.0 985.7 L2179.5 985.9 L2181.0 985.3 L2182.5 985.4 L2184.0 985.2 L2185.5 985.9 L2187.0 985.5 L2188.5 985.4 L2190.0 986.0 L2191.5 985.6 L2193.0 985.1 L2194.5 986.2 L2196.0 986.1 L2197.5 985.9 L2199.0 985.2 L2200.5 986.1 L2202.0 985.4 L2203.5 984.7 L2205.0 985.5 L2206.5 986.4 L2208.0 985.3 L2209.5 985.8 L2211.0 986.1 L2212.5 985.5 L2214.0 985.1 L2215.5 985.2 L2217.0 985.3 L2218.5 984.5 L2220.0 984.7 L2221.5 984.4 L2223.0 983.5 L2224.5 983.5 L2226.0 982.8 L2227.5 981.7 L2229.0 981.0 L2230.5 980.4 L2232.0 979.7 L2233.5 979.2 L2235.0 979.2 L2236.5 979.3 L2238.0 980.1 L2239.5 980.7 L2241.0 980.7 L2242.5 982.1 L2244.0 982.8 L2245.5 982.8 L2247.0 984.0 L2248.5 984.1 L2250.0 984.4 L2251.5 985.0 L2253.0 985.0 L2254.5 984.2 L2256.0 985.5 L2257.5 984.9 L2259.0 985.5 L2260.5 985.9 L2262.0 985.5" fill="none" stroke="#00ad60" stroke-width="11.5" stroke-linejoin="round" stroke-linecap="butt"/>
<path d="M246.0 1200.4 L247.5 1200.2 L249.0 1200.7 L250.5 1201.0 L252.0 1201.3 L253.5 1200.8 L255.0 1200.5 L256.5 1200.4 L258.0 1201.1 L259.5 1201.5 L261.0 1200.9 L262.5 1200.2 L264.0 1200.3 L265.5 1201.5 L267.0 1200.9 L268.5 1200.0 L270.0 1200.7 L271.5 1200.2 L273.0 1200.5 L274.5 1200.5 L276.0 1200.4 L277.5 1201.0 L279.0 1200.7 L280.5 1200.5 L282.0 1200.9 L283.5 1201.1 L285.0 1200.0 L286.5 1200.6 L288.0 1200.3 L289.5 1200.7 L291.0 1200.2 L292.5 1200.8 L294.0 1200.7 L295.5 1200.6 L297.0 1200.3 L298.5 1200.6 L300.0 1200.3 L301.5 1200.1 L303.0 1200.8 L304.5 1200.2 L306.0 1201.3 L307.5 1201.1 L309.0 1199.8 L310.5 1200.9 L312.0 1200.2 L313.5 1200.7 L315.0 1200.8 L316.5 1199.8 L318.0 1200.6 L319.5 1200.6 L321.0 1201.2 L322.5 1200.2 L324.0 1201.1 L325.5 1200.2 L327.0 1200.6 L328.5 1200.3 L330.0 1201.4 L331.5 1201.0 L333.0 1201.8 L334.5 1201.0 L336.0 1201.1 L337.5 1201.1 L339.0 1200.4 L340.5 1200.7 L342.0 1201.3 L343.5 1200.5 L345.0 1200.8 L346.5 1200.7 L348.0 1200.9 L349.5 1200.5 L351.0 1200.6 L352.5 1200.8 L354.0 1200.7 L355.5 1200.3 L357.0 1201.0 L358.5 1200.0 L360.0 1200.1 L361.5 1200.0 L363.0 1201.0 L364.5 1200.4 L366.0 1200.1 L367.5 1200.1 L369.0 1200.7 L370.5 1200.1 L372.0 1200.0 L373.5 1200.8 L375.0 1200.0 L376.5 1200.3 L378.0 1200.4 L379.5 1200.2 L381.0 1200.4 L382.5 1201.0 L384.0 1200.1 L385.5 1199.7 L387.0 1199.4 L388.5 1200.1 L390.0 1199.9 L391.5 1200.1 L393.0 1199.7 L394.5 1199.6 L396.0 1199.3 L397.5 1199.1 L399.0 1199.1 L400.5 1198.4 L402.0 1198.0 L403.5 1197.9 L405.0 1196.2 L406.5 1193.9 L408.0 1193.8 L409.5 1191.3 L411.0 1188.8 L412.5 1187.9 L414.0 1186.0 L415.5 1185.0 L416.0 1185.2 L417.0 1185.0 L418.5 1186.5 L420.0 1188.5 L421.5 1189.8 L423.0 1192.0 L424.5 1194.4 L426.0 1194.6 L427.5 1196.5 L429.0 1197.3 L430.5 1197.7 L432.0 1198.3 L433.5 1199.1 L435.0 1199.6 L436.5 1199.4 L438.0 1199.8 L439.5 1200.3 L441.0 1200.2 L442.5 1200.5 L444.0 1200.4 L445.5 1200.5 L447.0 1201.1 L448.5 1200.6 L450.0 1200.4 L451.5 1200.7 L453.0 1200.0 L454.5 1200.3 L456.0 1200.8 L457.5 1200.8 L459.0 1201.2 L460.5 1200.5 L462.0 1199.9 L463.5 1201.4 L465.0 1201.1 L466.5 1200.1 L468.0 1201.2 L469.5 1200.6 L471.0 1199.8 L472.5 1200.4 L474.0 1200.4 L475.5 1201.3 L477.0 1200.3 L478.5 1200.5 L480.0 1200.5 L481.5 1200.5 L483.0 1200.2 L484.5 1200.8 L486.0 1201.1 L487.5 1200.9 L489.0 1200.2 L490.5 1200.2 L492.0 1200.7 L493.5 1200.4 L495.0 1200.4 L496.5 1199.9 L498.0 1201.6 L499.5 1201.1 L501.0 1200.2 L502.5 1201.1 L504.0 1201.3 L505.5 1199.6 L507.0 1200.4 L508.5 1200.5 L510.0 1201.0 L511.5 1200.6 L513.0 1200.6 L514.5 1200.7 L516.0 1201.5 L517.5 1201.7 L519.0 1200.5 L520.5 1200.3 L522.0 1201.9 L523.5 1200.3 L525.0 1200.4 L526.5 1200.7 L528.0 1200.9 L529.5 1201.2 L531.0 1200.9 L532.5 1200.3 L534.0 1200.9 L535.5 1200.8 L537.0 1201.5 L538.5 1200.6 L540.0 1200.0 L541.5 1200.2 L543.0 1201.3 L544.5 1200.4 L546.0 1199.6 L547.5 1200.3 L549.0 1200.5 L550.5 1201.0 L552.0 1200.0 L553.5 1200.7 L555.0 1200.8 L556.5 1200.0 L558.0 1200.2 L559.5 1201.0 L561.0 1200.9 L562.5 1200.5 L564.0 1200.2 L565.5 1200.4 L567.0 1199.7 L568.5 1199.6 L570.0 1199.2 L571.5 1199.4 L573.0 1199.2 L574.5 1200.3 L576.0 1198.8 L577.5 1199.2 L579.0 1199.0 L580.5 1198.1 L582.0 1198.4 L583.5 1196.6 L585.0 1197.3 L586.5 1197.3 L588.0 1195.5 L589.5 1195.7 L591.0 1196.2 L592.5 1195.2 L594.0 1194.3 L595.5 1194.1 L597.0 1193.5 L598.5 1193.5 L600.0 1192.8 L601.5 1191.9 L603.0 1191.0 L604.5 1190.6 L606.0 1190.5 L607.5 1189.4 L609.0 1188.7 L610.5 1187.6 L612.0 1186.3 L613.5 1185.7 L615.0 1185.5 L616.5 1184.4 L618.0 1183.1 L619.5 1181.9 L621.0 1181.9 L622.5 1180.8 L624.0 1179.9 L625.5 1179.1 L627.0 1178.6 L628.5 1177.8 L630.0 1177.3 L631.5 1176.5 L633.0 1175.9 L634.5 1175.0 L636.0 1173.8 L637.5 1173.4 L639.0 1173.0 L640.5 1172.2 L642.0 1172.1 L643.5 1171.9 L645.0 1170.7 L646.5 1170.0 L648.0 1171.1 L649.5 1170.4 L651.0 1170.6 L652.5 1170.2 L654.0 1171.1 L655.5 1170.9 L657.0 1170.8 L658.5 1171.2 L660.0 1172.0 L661.5 1172.6 L663.0 1173.4 L664.5 1173.9 L666.0 1176.0 L667.5 1176.5 L669.0 1177.7 L670.5 1178.9 L672.0 1179.0 L673.5 1181.5 L675.0 1182.4 L676.5 1183.7 L678.0 1185.0 L679.5 1185.8 L681.0 1187.8 L682.5 1188.2 L684.0 1189.2 L685.5 1190.3 L687.0 1191.7 L688.5 1192.9 L690.0 1193.1 L691.5 1193.5 L693.0 1195.4 L694.5 1195.1 L696.0 1196.8 L697.5 1196.8 L699.0 1197.0 L700.5 1197.4 L702.0 1198.3 L703.5 1198.9 L705.0 1198.7 L706.5 1199.5 L708.0 1200.2 L709.5 1199.4 L711.0 1199.1 L712.5 1199.3 L714.0 1199.3 L715.5 1199.7 L717.0 1199.8 L718.5 1199.6 L720.0 1200.4 L721.5 1199.1 L723.0 1199.7 L724.5 1201.2 L726.0 1200.8 L727.5 1200.6 L729.0 1200.5 L730.5 1201.1 L732.0 1200.6 L733.5 1200.4 L735.0 1199.8 L736.5 1200.3 L738.0 1200.0 L739.5 1200.0 L741.0 1199.9 L742.5 1200.2 L744.0 1200.0 L745.5 1200.6 L747.0 1199.5 L748.5 1200.0 L750.0 1200.9 L751.5 1200.0 L753.0 1200.5 L754.5 1200.4 L756.0 1200.4 L757.5 1200.0 L759.0 1198.9 L760.5 1199.2 L762.0 1198.9 L763.5 1198.1 L765.0 1198.0 L766.5 1196.9 L768.0 1195.6 L769.5 1194.9 L771.0 1192.7 L772.5 1189.7 L774.0 1186.1 L775.5 1182.1 L777.0 1177.2 L778.5 1171.8 L780.0 1166.3 L781.5 1160.6 L783.0 1156.0 L784.5 1152.2 L786.0 1149.9 L787.0 1149.3 L787.5 1149.1 L789.0 1151.2 L790.5 1154.3 L792.0 1159.0 L793.5 1163.3 L795.0 1168.9 L796.5 1175.8 L798.0 1180.9 L799.5 1185.8 L801.0 1189.2 L802.5 1191.9 L804.0 1194.1 L805.5 1195.2 L807.0 1197.4 L808.5 1197.6 L810.0 1198.7 L811.5 1199.0 L813.0 1199.3 L814.5 1199.8 L816.0 1199.3 L817.5 1199.4 L819.0 1199.3 L820.5 1199.6 L822.0 1200.5 L823.5 1199.7 L825.0 1200.4 L826.5 1200.3 L828.0 1200.3 L829.5 1200.3 L831.0 1199.5 L832.5 1200.2 L834.0 1200.7 L835.5 1199.7 L837.0 1200.0 L838.5 1199.7 L840.0 1200.2 L841.5 1199.6 L843.0 1200.8 L844.5 1199.9 L846.0 1199.4 L847.5 1200.9 L849.0 1200.5 L850.5 1200.3 L852.0 1200.3 L853.5 1199.9 L855.0 1199.9 L856.5 1200.4 L858.0 1200.4 L859.5 1200.4 L861.0 1200.1 L862.5 1199.8 L864.0 1199.9 L865.5 1200.5 L867.0 1200.6 L868.5 1199.8 L870.0 1199.7 L871.5 1200.4 L873.0 1200.2 L874.5 1200.1 L876.0 1199.2 L877.5 1199.6 L879.0 1199.5 L880.5 1199.8 L882.0 1198.9 L883.5 1200.2 L885.0 1199.7 L886.5 1199.7 L888.0 1199.0 L889.5 1199.4 L891.0 1200.0 L892.5 1198.6 L894.0 1199.4 L895.5 1199.5 L897.0 1198.8 L898.5 1199.4 L900.0 1198.8 L901.5 1199.5 L903.0 1199.0 L904.5 1198.8 L906.0 1199.5 L907.5 1198.8 L909.0 1198.9 L910.5 1197.7 L912.0 1197.7 L913.5 1198.2 L915.0 1198.1 L916.5 1197.4 L918.0 1197.6 L919.5 1196.5 L921.0 1196.7 L922.5 1195.8 L924.0 1196.1 L925.5 1195.3 L927.0 1194.7 L928.5 1194.5 L930.0 1194.6 L931.5 1192.6 L933.0 1191.9 L934.5 1191.5 L936.0 1189.3 L937.5 1188.3 L939.0 1184.9 L940.5 1181.0 L942.0 1175.8 L943.5 1169.1 L945.0 1158.7 L946.5 1145.8 L948.0 1129.6 L949.5 1109.5 L951.0 1087.8 L952.5 1065.3 L954.0 1041.9 L955.5 1022.1 L957.0 1009.2 L958.2 1005.4 L958.5 1005.8 L960.0 1011.1 L961.5 1025.1 L963.0 1043.3 L964.5 1065.4 L966.0 1088.5 L967.5 1110.0 L969.0 1130.2 L970.5 1147.0 L972.0 1160.7 L973.5 1171.8 L975.0 1178.5 L976.5 1184.2 L978.0 1189.2 L979.5 1192.1 L981.0 1194.4 L982.5 1195.1 L984.0 1196.0 L985.5 1195.8 L987.0 1197.0 L988.5 1197.3 L990.0 1196.7 L991.5 1197.0 L993.0 1197.4 L994.5 1197.6 L996.0 1196.0 L997.5 1197.1 L999.0 1196.7 L1000.5 1195.8 L1002.0 1195.1 L1003.5 1194.1 L1005.0 1192.3 L1006.5 1192.0 L1008.0 1191.2 L1008.5 1191.3 L1009.5 1191.6 L1011.0 1193.0 L1012.5 1192.8 L1014.0 1194.1 L1015.5 1195.3 L1017.0 1197.9 L1018.5 1197.7 L1020.0 1198.4 L1021.5 1198.5 L1023.0 1198.7 L1024.5 1198.4 L1026.0 1199.6 L1027.5 1199.7 L1029.0 1198.8 L1030.5 1199.3 L1032.0 1199.5 L1033.5 1199.9 L1035.0 1200.1 L1036.5 1200.5 L1038.0 1200.7 L1039.5 1200.6 L1041.0 1200.7 L1042.5 1199.6 L1044.0 1199.9 L1045.5 1200.7 L1047.0 1200.3 L1048.5 1200.2 L1050.0 1199.4 L1051.5 1199.4 L1053.0 1200.6 L1054.5 1200.5 L1056.0 1200.2 L1057.5 1200.1 L1059.0 1199.6 L1060.5 1200.5 L1062.0 1200.8 L1063.5 1201.1 L1065.0 1200.4 L1066.5 1200.3 L1068.0 1199.9 L1069.5 1201.0 L1071.0 1201.2 L1072.5 1200.2 L1074.0 1200.6 L1075.5 1200.5 L1077.0 1200.2 L1078.5 1199.3 L1080.0 1200.3 L1081.5 1200.7 L1083.0 1199.8 L1084.5 1200.1 L1086.0 1199.0 L1087.5 1201.1 L1089.0 1200.7 L1090.5 1200.5 L1092.0 1200.4 L1093.5 1200.2 L1095.0 1200.5 L1096.5 1200.4 L1098.0 1200.4 L1099.5 1200.5 L1101.0 1200.6 L1102.5 1201.2 L1104.0 1199.9 L1105.5 1200.6 L1107.0 1200.2 L1108.5 1200.0 L1110.0 1199.5 L1111.5 1200.8 L1113.0 1200.1 L1114.5 1200.2 L1116.0 1200.7 L1117.5 1200.0 L1119.0 1200.5 L1120.5 1200.5 L1122.0 1200.9 L1123.5 1201.0 L1125.0 1200.1 L1126.5 1200.9 L1128.0 1200.4 L1129.5 1200.5 L1131.0 1200.4 L1132.5 1200.8 L1134.0 1199.9 L1135.5 1200.6 L1137.0 1201.0 L1138.5 1200.3 L1140.0 1201.4 L1141.5 1200.1 L1143.0 1200.5 L1144.5 1200.2 L1146.0 1200.1 L1147.5 1199.9 L1149.0 1200.1 L1150.5 1200.3 L1152.0 1200.0 L1153.5 1200.7 L1155.0 1201.0 L1156.5 1199.6 L1158.0 1200.6 L1159.5 1200.3 L1161.0 1200.3 L1162.5 1201.3 L1164.0 1200.7 L1165.5 1200.2 L1167.0 1200.1 L1168.5 1199.0 L1170.0 1200.2 L1171.5 1199.5 L1173.0 1199.8 L1174.5 1199.6 L1176.0 1199.8 L1177.5 1200.1 L1179.0 1199.2 L1180.5 1198.8 L1182.0 1197.4 L1183.5 1196.6 L1185.0 1195.1 L1186.5 1192.0 L1188.0 1190.8 L1189.5 1186.0 L1191.0 1181.4 L1192.5 1177.8 L1194.0 1172.4 L1195.5 1165.4 L1197.0 1159.7 L1198.5 1156.3 L1200.0 1151.1 L1201.5 1147.8 L1202.5 1148.3 L1203.0 1149.3 L1204.5 1150.3 L1206.0 1153.8 L1207.5 1158.8 L1209.0 1164.1 L1210.5 1169.4 L1212.0 1174.5 L1213.5 1180.6 L1215.0 1184.5 L1216.5 1188.8 L1218.0 1192.6 L1219.5 1194.4 L1221.0 1195.9 L1222.5 1197.2 L1224.0 1198.4 L1225.5 1199.1 L1227.0 1198.5 L1228.5 1199.4 L1230.0 1200.3 L1231.5 1200.0 L1233.0 1199.5 L1234.5 1199.6 L1236.0 1199.1 L1237.5 1199.7 L1239.0 1200.8 L1240.5 1200.1 L1242.0 1199.8 L1243.5 1200.0 L1245.0 1200.2 L1246.5 1200.2 L1248.0 1200.2 L1249.5 1200.0 L1251.0 1200.7 L1252.5 1201.1 L1254.0 1200.2 L1255.5 1200.2 L1257.0 1201.0 L1258.5 1199.8 L1260.0 1200.2 L1261.5 1200.3 L1263.0 1200.6 L1264.5 1200.4 L1266.0 1200.1 L1267.5 1200.7 L1269.0 1200.0 L1270.5 1199.8 L1272.0 1199.6 L1273.5 1200.9 L1275.0 1199.8 L1276.5 1200.8 L1278.0 1200.9 L1279.5 1201.0 L1281.0 1200.5 L1282.5 1200.4 L1284.0 1200.7 L1285.5 1200.4 L1287.0 1200.0 L1288.5 1201.2 L1290.0 1200.2 L1291.5 1201.4 L1293.0 1200.9 L1294.5 1200.4 L1296.0 1200.8 L1297.5 1201.2 L1299.0 1200.0 L1300.5 1200.2 L1302.0 1200.2 L1303.5 1200.7 L1305.0 1200.8 L1306.5 1200.7 L1308.0 1200.3 L1309.5 1200.4 L1311.0 1201.2 L1312.5 1201.2 L1314.0 1200.7 L1315.5 1200.1 L1317.0 1201.0 L1318.5 1200.8 L1320.0 1200.8 L1321.5 1201.5 L1323.0 1201.1 L1324.5 1200.3 L1326.0 1200.3 L1327.5 1201.3 L1329.0 1200.8 L1330.5 1201.1 L1332.0 1200.6 L1333.5 1200.3 L1335.0 1200.8 L1336.5 1201.4 L1338.0 1200.9 L1339.5 1200.2 L1341.0 1200.6 L1342.5 1200.5 L1344.0 1200.8 L1345.5 1201.2 L1347.0 1201.6 L1348.5 1200.8 L1350.0 1200.6 L1351.5 1200.8 L1353.0 1200.8 L1354.5 1200.6 L1356.0 1200.8 L1357.5 1200.8 L1359.0 1200.2 L1360.5 1201.0 L1362.0 1200.6 L1363.5 1200.3 L1365.0 1201.0 L1366.5 1200.5 L1368.0 1201.5 L1369.5 1201.0 L1371.0 1200.8 L1372.5 1200.4 L1374.0 1200.6 L1375.5 1201.1 L1377.0 1200.4 L1378.5 1201.1 L1380.0 1199.8 L1381.5 1200.8 L1383.0 1201.1 L1384.5 1200.9 L1386.0 1200.8 L1387.5 1201.2 L1389.0 1200.4 L1390.5 1200.3 L1392.0 1200.8 L1393.5 1201.3 L1395.0 1200.9 L1396.5 1200.7 L1398.0 1200.9 L1399.5 1201.0 L1401.0 1200.2 L1402.5 1199.5 L1404.0 1200.3 L1405.5 1200.1 L1407.0 1200.5 L1408.5 1200.2 L1410.0 1200.4 L1411.5 1200.9 L1413.0 1200.8 L1414.5 1200.7 L1416.0 1201.5 L1417.5 1200.5 L1419.0 1200.6 L1420.5 1201.3 L1422.0 1200.3 L1423.5 1200.0 L1425.0 1201.3 L1426.5 1200.9 L1428.0 1201.0 L1429.5 1201.0 L1431.0 1201.2 L1432.5 1200.5 L1434.0 1200.7 L1435.5 1200.3 L1437.0 1200.8 L1438.5 1200.9 L1440.0 1200.5 L1441.5 1201.1 L1443.0 1202.1 L1444.5 1200.2 L1446.0 1201.1 L1447.5 1201.2 L1449.0 1201.2 L1450.5 1200.4 L1452.0 1201.3 L1453.5 1201.0 L1455.0 1200.7 L1456.5 1200.6 L1458.0 1200.9 L1459.5 1201.2 L1461.0 1201.1 L1462.5 1201.8 L1464.0 1200.6 L1465.5 1201.0 L1467.0 1200.5 L1468.5 1201.1 L1470.0 1200.8 L1471.5 1200.5 L1473.0 1200.1 L1474.5 1200.4 L1476.0 1200.8 L1477.5 1201.4 L1479.0 1201.1 L1480.5 1200.2 L1482.0 1200.5 L1483.5 1200.7 L1485.0 1200.6 L1486.5 1200.7 L1488.0 1201.0 L1489.5 1200.7 L1491.0 1200.3 L1492.5 1199.7 L1494.0 1200.4 L1495.5 1199.8 L1497.0 1200.5 L1498.5 1200.7 L1500.0 1199.9 L1501.5 1200.4 L1503.0 1200.3 L1504.5 1201.3 L1506.0 1200.6 L1507.5 1199.5 L1509.0 1200.5 L1510.5 1200.4 L1512.0 1200.1 L1513.5 1200.0 L1515.0 1200.3 L1516.5 1200.2 L1518.0 1200.0 L1519.5 1199.2 L1521.0 1199.2 L1522.5 1198.3 L1524.0 1197.8 L1525.5 1197.6 L1527.0 1196.5 L1528.5 1195.7 L1530.0 1195.8 L1531.5 1193.5 L1533.0 1191.3 L1534.5 1189.4 L1536.0 1188.8 L1537.5 1188.0 L1538.0 1188.7 L1539.0 1189.1 L1540.5 1189.3 L1542.0 1191.0 L1543.5 1193.6 L1545.0 1193.8 L1546.5 1195.1 L1548.0 1196.4 L1549.5 1197.1 L1551.0 1197.7 L1552.5 1198.5 L1554.0 1199.6 L1555.5 1199.3 L1557.0 1199.0 L1558.5 1199.2 L1560.0 1199.4 L1561.5 1200.0 L1563.0 1200.3 L1564.5 1200.3 L1566.0 1200.7 L1567.5 1200.1 L1569.0 1200.6 L1570.5 1200.4 L1572.0 1200.6 L1573.5 1199.5 L1575.0 1200.9 L1576.5 1199.7 L1578.0 1199.9 L1579.5 1200.8 L1581.0 1200.3 L1582.5 1201.2 L1584.0 1200.5 L1585.5 1200.0 L1587.0 1200.5 L1588.5 1200.3 L1590.0 1201.2 L1591.5 1201.2 L1593.0 1200.8 L1594.5 1200.3 L1596.0 1200.5 L1597.5 1200.9 L1599.0 1200.1 L1600.5 1200.1 L1602.0 1200.8 L1603.5 1200.8 L1605.0 1200.3 L1606.5 1200.3 L1608.0 1199.5 L1609.5 1200.9 L1611.0 1200.3 L1612.5 1199.7 L1614.0 1199.8 L1615.5 1199.9 L1617.0 1201.1 L1618.5 1200.6 L1620.0 1199.6 L1621.5 1201.0 L1623.0 1200.8 L1624.5 1199.6 L1626.0 1198.8 L1627.5 1200.4 L1629.0 1199.6 L1630.5 1199.6 L1632.0 1199.2 L1633.5 1199.7 L1635.0 1199.3 L1636.5 1198.3 L1638.0 1196.9 L1639.5 1195.8 L1641.0 1194.1 L1642.5 1190.8 L1644.0 1189.3 L1645.5 1185.2 L1647.0 1181.7 L1648.5 1177.6 L1650.0 1174.0 L1651.5 1170.3 L1653.0 1167.8 L1654.5 1164.6 L1656.0 1164.0 L1657.5 1164.8 L1659.0 1166.5 L1660.5 1170.2 L1662.0 1173.2 L1663.5 1177.7 L1665.0 1182.0 L1666.5 1185.8 L1668.0 1188.8 L1669.5 1192.2 L1671.0 1194.4 L1672.5 1194.9 L1674.0 1197.2 L1675.5 1198.1 L1677.0 1198.5 L1678.5 1198.9 L1680.0 1199.5 L1681.5 1199.9 L1683.0 1200.0 L1684.5 1200.6 L1686.0 1200.5 L1687.5 1199.9 L1689.0 1199.9 L1690.5 1200.6 L1692.0 1200.0 L1693.5 1200.4 L1695.0 1200.6 L1696.5 1200.8 L1698.0 1200.6 L1699.5 1201.1 L1701.0 1200.2 L1702.5 1200.8 L1704.0 1200.2 L1705.5 1200.6 L1707.0 1200.5 L1708.5 1200.1 L1710.0 1199.3 L1711.5 1201.0 L1713.0 1200.7 L1714.5 1200.6 L1716.0 1200.2 L1717.5 1200.4 L1719.0 1200.8 L1720.5 1200.6 L1722.0 1201.1 L1723.5 1200.6 L1725.0 1200.2 L1726.5 1200.9 L1728.0 1200.3 L1729.5 1200.7 L1731.0 1199.8 L1732.5 1200.4 L1734.0 1200.8 L1735.5 1200.3 L1737.0 1200.6 L1738.5 1200.9 L1740.0 1200.6 L1741.5 1201.4 L1743.0 1200.5 L1744.5 1200.5 L1746.0 1200.5 L1747.5 1199.7 L1749.0 1199.9 L1750.5 1200.8 L1752.0 1200.4 L1753.5 1201.2 L1755.0 1200.5 L1756.5 1200.5 L1758.0 1201.0 L1759.5 1200.7 L1761.0 1201.3 L1762.5 1200.1 L1764.0 1200.8 L1765.5 1200.9 L1767.0 1200.8 L1768.5 1201.1 L1770.0 1201.0 L1771.5 1200.5 L1773.0 1200.3 L1774.5 1201.0 L1776.0 1200.5 L1777.5 1200.9 L1779.0 1201.1 L1780.5 1200.6 L1782.0 1200.1 L1783.5 1200.3 L1785.0 1200.8 L1786.5 1200.3 L1788.0 1200.9 L1789.5 1200.4 L1791.0 1200.4 L1792.5 1200.1 L1794.0 1200.3 L1795.5 1200.8 L1797.0 1200.1 L1798.5 1200.1 L1800.0 1199.8 L1801.5 1200.5 L1803.0 1199.4 L1804.5 1199.8 L1806.0 1200.4 L1807.5 1200.6 L1809.0 1199.8 L1810.5 1200.2 L1812.0 1198.8 L1813.5 1199.9 L1815.0 1199.5 L1816.5 1198.6 L1818.0 1198.0 L1819.5 1198.1 L1821.0 1197.8 L1822.5 1196.8 L1824.0 1195.3 L1825.5 1193.6 L1827.0 1190.9 L1828.5 1186.4 L1830.0 1182.3 L1831.5 1176.8 L1833.0 1171.1 L1834.5 1163.4 L1836.0 1156.7 L1837.5 1149.1 L1839.0 1143.6 L1840.5 1137.6 L1842.0 1134.7 L1843.0 1134.0 L1843.5 1134.3 L1845.0 1137.4 L1846.5 1140.5 L1848.0 1146.4 L1849.5 1153.7 L1851.0 1161.5 L1852.5 1167.9 L1854.0 1175.3 L1855.5 1181.1 L1857.0 1185.5 L1858.5 1189.4 L1860.0 1192.1 L1861.5 1194.5 L1863.0 1195.9 L1864.5 1197.9 L1866.0 1198.9 L1867.5 1198.5 L1869.0 1199.0 L1870.5 1198.4 L1872.0 1199.2 L1873.5 1199.8 L1875.0 1199.9 L1876.5 1199.9 L1878.0 1200.3 L1879.5 1200.0 L1881.0 1199.9 L1882.5 1200.8 L1884.0 1199.3 L1885.5 1199.7 L1887.0 1199.9 L1888.5 1199.9 L1890.0 1199.9 L1891.5 1200.2 L1893.0 1200.0 L1894.5 1200.3 L1896.0 1200.7 L1897.5 1200.4 L1899.0 1200.5 L1900.5 1200.0 L1902.0 1199.9 L1903.5 1200.3 L1905.0 1200.9 L1906.5 1200.7 L1908.0 1201.0 L1909.5 1201.0 L1911.0 1201.0 L1912.5 1200.2 L1914.0 1201.1 L1915.5 1200.9 L1917.0 1201.5 L1918.5 1200.8 L1920.0 1200.7 L1921.5 1200.5 L1923.0 1200.7 L1924.5 1199.9 L1926.0 1200.5 L1927.5 1200.6 L1929.0 1201.1 L1930.5 1200.3 L1932.0 1200.7 L1933.5 1201.5 L1935.0 1200.4 L1936.5 1201.0 L1938.0 1200.4 L1939.5 1200.6 L1941.0 1200.9 L1942.5 1201.1 L1944.0 1200.4 L1945.5 1200.2 L1947.0 1201.4 L1948.5 1200.8 L1950.0 1201.0 L1951.5 1201.1 L1953.0 1201.0 L1954.5 1200.6 L1956.0 1200.6 L1957.5 1200.0 L1959.0 1200.8 L1960.5 1200.5 L1962.0 1200.7 L1963.5 1201.5 L1965.0 1201.0 L1966.5 1200.7 L1968.0 1200.1 L1969.5 1201.0 L1971.0 1201.4 L1972.5 1200.3 L1974.0 1200.9 L1975.5 1200.5 L1977.0 1200.7 L1978.5 1200.6 L1980.0 1200.0 L1981.5 1200.5 L1983.0 1200.0 L1984.5 1201.3 L1986.0 1201.2 L1987.5 1200.7 L1989.0 1200.9 L1990.5 1200.8 L1992.0 1200.8 L1993.5 1200.8 L1995.0 1200.6 L1996.5 1200.7 L1998.0 1200.1 L1999.5 1200.3 L2001.0 1200.5 L2002.5 1200.8 L2004.0 1200.6 L2005.5 1201.6 L2007.0 1200.7 L2008.5 1200.6 L2010.0 1200.9 L2011.5 1201.2 L2013.0 1201.6 L2014.5 1201.2 L2016.0 1200.5 L2017.5 1200.7 L2019.0 1201.2 L2020.5 1200.9 L2022.0 1201.1 L2023.5 1200.7 L2025.0 1201.4 L2026.5 1201.4 L2028.0 1201.2 L2029.5 1200.8 L2031.0 1200.0 L2032.5 1200.1 L2034.0 1200.9 L2035.5 1201.0 L2037.0 1199.5 L2038.5 1200.5 L2040.0 1201.3 L2041.5 1201.2 L2043.0 1200.5 L2044.5 1201.0 L2046.0 1200.8 L2047.5 1200.6 L2049.0 1201.2 L2050.5 1201.2 L2052.0 1200.5 L2053.5 1200.3 L2055.0 1200.2 L2056.5 1200.1 L2058.0 1201.3 L2059.5 1201.6 L2061.0 1200.8 L2062.5 1201.2 L2064.0 1200.4 L2065.5 1200.7 L2067.0 1201.1 L2068.5 1200.9 L2070.0 1200.7 L2071.5 1200.0 L2073.0 1200.1 L2074.5 1200.5 L2076.0 1200.5 L2077.5 1200.7 L2079.0 1200.4 L2080.5 1200.6 L2082.0 1200.7 L2083.5 1200.9 L2085.0 1200.7 L2086.5 1200.4 L2088.0 1200.6 L2089.5 1201.1 L2091.0 1200.6 L2092.5 1200.2 L2094.0 1200.2 L2095.5 1200.8 L2097.0 1200.9 L2098.5 1201.1 L2100.0 1200.4 L2101.5 1201.2 L2103.0 1200.4 L2104.5 1200.4 L2106.0 1200.2 L2107.5 1200.6 L2109.0 1200.7 L2110.5 1200.1 L2112.0 1199.7 L2113.5 1199.0 L2115.0 1199.4 L2116.5 1198.8 L2118.0 1198.4 L2119.5 1197.7 L2121.0 1197.0 L2122.5 1196.7 L2124.0 1196.7 L2125.5 1196.7 L2126.0 1196.2 L2127.0 1196.5 L2128.5 1196.5 L2130.0 1197.0 L2131.5 1197.0 L2133.0 1198.5 L2134.5 1198.9 L2136.0 1199.8 L2137.5 1199.2 L2139.0 1199.8 L2140.5 1199.6 L2142.0 1200.3 L2143.5 1200.2 L2145.0 1200.7 L2146.5 1200.4 L2148.0 1200.8 L2149.5 1200.3 L2151.0 1200.8 L2152.5 1200.4 L2154.0 1200.4 L2155.5 1200.6 L2157.0 1200.8 L2158.5 1200.0 L2160.0 1200.0 L2161.5 1200.7 L2163.0 1200.6 L2164.5 1199.8 L2166.0 1199.9 L2167.5 1200.3 L2169.0 1200.8 L2170.5 1200.8 L2172.0 1201.1 L2173.5 1201.2 L2175.0 1201.7 L2176.5 1200.0 L2178.0 1200.6 L2179.5 1201.1 L2181.0 1200.1 L2182.5 1200.0 L2184.0 1200.7 L2185.5 1201.1 L2187.0 1201.2 L2188.5 1199.9 L2190.0 1200.1 L2191.5 1200.6 L2193.0 1200.4 L2194.5 1200.8 L2196.0 1200.7 L2197.5 1201.4 L2199.0 1200.6 L2200.5 1200.7 L2202.0 1200.6 L2203.5 1201.0 L2205.0 1200.0 L2206.5 1200.7 L2208.0 1200.1 L2209.5 1199.8 L2211.0 1200.9 L2212.5 1200.5 L2214.0 1200.8 L2215.5 1200.2 L2217.0 1200.3 L2218.5 1199.8 L2220.0 1199.8 L2221.5 1199.0 L2223.0 1199.5 L2224.5 1197.9 L2226.0 1198.4 L2227.5 1196.9 L2229.0 1196.7 L2230.5 1195.7 L2232.0 1195.3 L2233.5 1195.4 L2235.0 1194.6 L2236.5 1194.3 L2238.0 1195.2 L2239.5 1196.0 L2241.0 1195.3 L2242.5 1197.5 L2244.0 1198.2 L2245.5 1197.5 L2247.0 1198.7 L2248.5 1199.6 L2250.0 1199.0 L2251.5 1199.6 L2253.0 1199.8 L2254.5 1200.4 L2256.0 1200.7 L2257.5 1200.3 L2259.0 1200.4 L2260.5 1200.9 L2262.0 1200.7" fill="none" stroke="#ca6ae2" stroke-width="12.5" stroke-linejoin="round" stroke-linecap="butt"/>
<text transform="matrix(0.9413 0 0 1.0000 287.29 280.00)" font-family="Liberation Serif, Times New Roman, serif" font-weight="bold" font-size="165" fill="#505050">a</text>
<text transform="matrix(1.0200 0 0 0.9894 284.36 520.71)" font-family="Liberation Serif, Times New Roman, serif" font-weight="bold" font-size="160" fill="#ff4040">b</text>
<text transform="matrix(0.9781 0 0 0.9975 286.23 745.81)" font-family="Liberation Serif, Times New Roman, serif" font-weight="bold" font-size="166" fill="#0064e0">c</text>
<text transform="matrix(1.0225 0 0 0.9798 279.24 967.24)" font-family="Liberation Serif, Times New Roman, serif" font-weight="bold" font-size="160" fill="#00ad60">d</text>
<text transform="matrix(0.9921 0 0 1.0051 286.15 1177.59)" font-family="Liberation Serif, Times New Roman, serif" font-weight="bold" font-size="166" fill="#ca6ae2">e</text>
<text transform="translate(133.7 1294.92) rotate(-90) scale(0.9862 1)" font-family="Liberation Serif, Times New Roman, serif" font-weight="bold" font-size="170" fill="#000">Intensity (a.u.)</text>
<text x="380.4" y="1661.5" text-anchor="middle" font-family="Liberation Serif, Times New Roman, serif" font-weight="bold" font-size="125" fill="#000">20</text>
<text x="918.2" y="1661.5" text-anchor="middle" font-family="Liberation Serif, Times New Roman, serif" font-weight="bold" font-size="125" fill="#000">40</text>
<text x="1456.0" y="1661.5" text-anchor="middle" font-family="Liberation Serif, Times New Roman, serif" font-weight="bold" font-size="125" fill="#000">60</text>
<text x="1993.7" y="1661.5" text-anchor="middle" font-family="Liberation Serif, Times New Roman, serif" font-weight="bold" font-size="125" fill="#000">80</text>
<text transform="matrix(1.0174 0 0 1.0193 840.78 1809.50)" font-family="Liberation Serif, Times New Roman, serif" font-weight="bold" font-size="166" fill="#000">2</text>
<text transform="matrix(1.1516 0 0 1.0195 925.39 1810.76)" font-family="Liberation Serif, Times New Roman, serif" font-weight="normal" font-size="166" fill="#000">θ</text>
<text transform="matrix(1.0860 0 0 0.9664 1055.20 1808.57)" font-family="Liberation Serif, Times New Roman, serif" font-weight="bold" font-size="166" fill="#000">(</text>
<text transform="matrix(1.0195 0 0 1.0110 1109.64 1808.50)" font-family="Liberation Serif, Times New Roman, serif" font-weight="bold" font-size="166" fill="#000">Degree</text>
<text transform="matrix(1.0884 0 0 0.9584 1608.86 1808.46)" font-family="Liberation Serif, Times New Roman, serif" font-weight="bold" font-size="166" fill="#000">)</text>
<text transform="matrix(0.9708 0 0 1.0000 267.03 1265.00)" font-family="Liberation Serif, Times New Roman, serif" font-weight="bold" font-size="71" fill="#008080">MCNT PDF# 00-058-1638</text>
<text transform="matrix(0.9900 0 0 0.9915 1396.64 1277.60)" font-family="Liberation Serif, Times New Roman, serif" font-weight="bold" font-size="71" fill="#cf5a1e">CuFe</text>
<text transform="matrix(1.0560 0 0 1.0282 1560.09 1296.60)" font-family="Liberation Serif, Times New Roman, serif" font-weight="bold" font-size="60" fill="#cf5a1e">2</text>
<text transform="matrix(0.9469 0 0 0.9915 1592.16 1277.60)" font-family="Liberation Serif, Times New Roman, serif" font-weight="bold" font-size="71" fill="#cf5a1e">O</text>
<text transform="matrix(0.9778 0 0 1.0282 1645.72 1296.60)" font-family="Liberation Serif, Times New Roman, serif" font-weight="bold" font-size="60" fill="#cf5a1e">4</text>
<text transform="matrix(0.9701 0 0 0.9915 1695.43 1277.60)" font-family="Liberation Serif, Times New Roman, serif" font-weight="bold" font-size="71" fill="#cf5a1e">PDF# 01-075-1517</text>
</svg>
</body></html>
